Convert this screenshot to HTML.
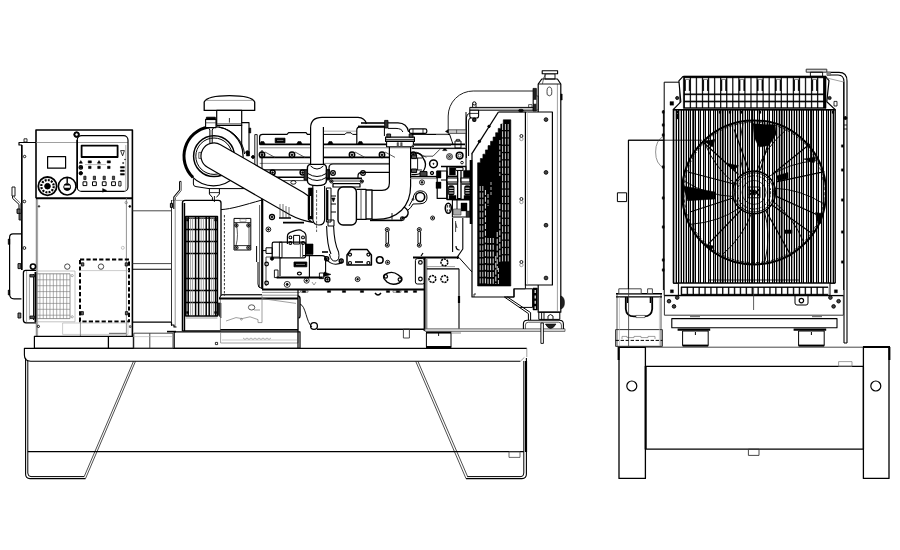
<!DOCTYPE html>
<html><head><meta charset="utf-8"><title>Generator set drawing</title>
<style>
html,body{margin:0;padding:0;background:#fff}
body{width:900px;height:550px;overflow:hidden;font-family:"Liberation Sans",sans-serif}
svg{display:block}
</style></head><body>
<svg width="900" height="550" viewBox="0 0 900 550" stroke-linecap="butt" stroke-linejoin="round">
<rect x="0" y="0" width="900" height="550" fill="#fff"/>
<g id="base">
<path d="M526.8 348.3 H24.4 V355 Q24.4 361.2 30.6 361.2 H520.4" stroke="#000" stroke-width="1.15" fill="none"/>
<path d="M526.8 348.3 V357 M520.4 361.2 L524.4 357.4" stroke="#888" stroke-width="0.8" fill="none"/>
<path d="M25.6 358 V474 Q25.6 478.6 30 478.6 H85.5" stroke="#000" stroke-width="1.1" fill="none"/>
<path d="M27.8 361 V473 Q27.8 476.6 31 476.6 H84.2" stroke="#000" stroke-width="1" fill="none"/>
<path d="M85.5 478.6 L135.6 361" stroke="#222" stroke-width="0.8" fill="none"/>
<path d="M84.2 476.6 L133.6 361" stroke="#222" stroke-width="0.8" fill=" stroke-dasharray="2.2 0.8""/>
<path d="M526.4 358 V474 Q526.4 478.6 522 478.6 H466" stroke="#000" stroke-width="1.1" fill="none"/>
<path d="M523.8 361 V473 Q523.8 476.6 521 476.6 H467.2" stroke="#000" stroke-width="1" fill="none"/>
<path d="M466 478.6 L415.6 361" stroke="#222" stroke-width="0.8" fill="none"/>
<path d="M467.6 476.6 L417.8 361" stroke="#222" stroke-width="0.8" fill=" stroke-dasharray="2.2 0.8""/>
<line x1="526" y1="361" x2="526" y2="452" stroke="#000" stroke-width="2.2"/>
<line x1="27.8" y1="451.6" x2="523.8" y2="451.6" stroke="#000" stroke-width="1.1"/>
<rect x="509" y="451.6" width="11" height="5.8" rx="0" stroke="#444" stroke-width="0.8" fill="none"/>
</g>
<g id="panel">
<path d="M36 198.2 V130 H132.4 V336.3" stroke="#000" stroke-width="1.6" fill="none"/>
<line x1="36.3" y1="198.2" x2="36.3" y2="336.3" stroke="#666" stroke-width="0.9"/>
<line x1="36" y1="198.2" x2="132.4" y2="198.2" stroke="#000" stroke-width="2"/>
<line x1="126.4" y1="198" x2="126.4" y2="336" stroke="#777" stroke-width="0.8"/>
<line x1="36" y1="142.5" x2="128" y2="142.5" stroke="#777" stroke-width="0.7"/>
<line x1="37.6" y1="199" x2="37.6" y2="336" stroke="#777" stroke-width="0.7"/>
<path d="M36 142.5 H19 V145 H21.6 V270" stroke="#000" stroke-width="1.2" fill="none"/>
<line x1="21.8" y1="145" x2="21.8" y2="270" stroke="#000" stroke-width="1.6"/>
<rect x="24" y="138.8" width="3" height="3.2" rx="0" stroke="#000" stroke-width="0.8" fill="none"/>
<circle cx="24.6" cy="156.5" r="1.2" stroke="#000" stroke-width="0.9" fill="none"/>
<circle cx="24.4" cy="201.5" r="1.3" stroke="#000" stroke-width="0.9" fill="none"/>
<circle cx="24.4" cy="248" r="1.4" stroke="#000" stroke-width="0.9" fill="none"/>
<rect x="77.2" y="135.6" width="50.8" height="55.8" rx="4.5" stroke="#000" stroke-width="1.2" fill="none"/>
<line x1="77.2" y1="140" x2="77.2" y2="188" stroke="#000" stroke-width="1.6"/>
<rect x="81.6" y="145.6" width="36" height="11.4" rx="0" stroke="#000" stroke-width="1.8" fill="none"/>
<line x1="125.8" y1="145" x2="125.8" y2="190" stroke="#777" stroke-width="0.6"/>
<circle cx="76.6" cy="134.6" r="2.8" stroke="#000" stroke-width="1" fill="#000"/>
<circle cx="76.6" cy="134.6" r="1" stroke="#fff" stroke-width="0.5" fill="#fff"/>
<rect x="47.6" y="156.6" width="18" height="11.6" rx="0" stroke="#000" stroke-width="1.2" fill="none"/>
<circle cx="47.5" cy="186.2" r="9.2" stroke="#000" stroke-width="1.8" fill="none"/>
<circle cx="47.5" cy="186.2" r="6.2" stroke="#000" stroke-width="2.2" fill="none" stroke-dasharray="2 1.2"/>
<circle cx="47.5" cy="186.2" r="2.8" stroke="#000" stroke-width="1" fill="#000"/>
<circle cx="67.2" cy="186.2" r="8.8" stroke="#000" stroke-width="1.6" fill="none"/>
<circle cx="67.2" cy="187" r="3.4" stroke="#000" stroke-width="1" fill="#000"/>
<line x1="67.2" y1="178" x2="67.2" y2="183" stroke="#000" stroke-width="1.4"/>
<rect x="64.6" y="185.8" width="5.2" height="1.8" rx="0" stroke="#fff" stroke-width="0.5" fill="#fff"/>
<path d="M79.2 163.2 L80.8 160.6 L82.4 163.2 Z" stroke="#000" stroke-width="0.6" fill="#000"/>
<rect x="79.5" y="166.2" width="2.6" height="2.4" rx="0" stroke="#000" stroke-width="0.5" fill="#000"/>
<rect x="88.2" y="160.8" width="3.2" height="2.2" rx="0" stroke="#000" stroke-width="0.5" fill="#000"/>
<rect x="88.5" y="166.2" width="2.6" height="2.4" rx="0" stroke="#000" stroke-width="0.5" fill="#000"/>
<path d="M97.4 163.2 L99 160.6 L100.6 163.2 Z" stroke="#000" stroke-width="0.6" fill="#000"/>
<rect x="97.7" y="166.2" width="2.6" height="2.4" rx="0" stroke="#000" stroke-width="0.5" fill="#000"/>
<rect x="107.2" y="160.8" width="3.2" height="2.2" rx="0" stroke="#000" stroke-width="0.5" fill="#000"/>
<rect x="107.5" y="166.2" width="2.6" height="2.4" rx="0" stroke="#000" stroke-width="0.5" fill="#000"/>
<line x1="85" y1="164.6" x2="106" y2="164.6" stroke="#777" stroke-width="0.5"/>
<circle cx="80.8" cy="167.4" r="1.8" stroke="#000" stroke-width="1.1" fill="none"/>
<circle cx="80.8" cy="173.2" r="1.7" stroke="#000" stroke-width="1" fill="#000"/>
<rect x="83.8" y="176.2" width="2.2" height="3.4" rx="0" stroke="#000" stroke-width="0.7" fill="#555"/>
<rect x="83" y="181.8" width="3.8" height="3.8" rx="0" stroke="#000" stroke-width="1" fill="none"/>
<rect x="93.3" y="176.2" width="2.2" height="3.4" rx="0" stroke="#000" stroke-width="0.7" fill="#555"/>
<rect x="92.5" y="181.8" width="3.8" height="3.8" rx="0" stroke="#000" stroke-width="1" fill="none"/>
<rect x="103.1" y="176.2" width="2.2" height="3.4" rx="0" stroke="#000" stroke-width="0.7" fill="#555"/>
<rect x="102.3" y="181.8" width="3.8" height="3.8" rx="0" stroke="#000" stroke-width="1" fill="none"/>
<rect x="112.4" y="176.2" width="2.2" height="3.4" rx="0" stroke="#000" stroke-width="0.7" fill="#555"/>
<rect x="111.6" y="181.8" width="3.8" height="3.8" rx="0" stroke="#000" stroke-width="1" fill="none"/>
<rect x="118.8" y="181.4" width="2.2" height="4.6" rx="0" stroke="#000" stroke-width="0.9" fill="none"/>
<path d="M102.6 188.6 L106.6 190.4 L102.6 192.2 Z" stroke="#000" stroke-width="0.5" fill="#000"/>
<path d="M120.6 150.6 L124.4 150.6 L122.6 155.8 Z" stroke="#000" stroke-width="0.8" fill="none"/>
<rect x="120.4" y="166.5" width="4" height="1.6" rx="0" stroke="#000" stroke-width="0.4" fill="#000"/>
<rect x="120.4" y="170" width="4" height="1.6" rx="0" stroke="#000" stroke-width="0.4" fill="#000"/>
<rect x="120.4" y="173.5" width="4" height="1.6" rx="0" stroke="#000" stroke-width="0.4" fill="#000"/>
<rect x="122.6" y="162.4" width="1.2" height="1.2" rx="0" stroke="#000" stroke-width="0.3" fill="#000"/>
<rect x="124.6" y="159" width="0.8" height="1" rx="0" stroke="#000" stroke-width="0.3" fill="#000"/>
<circle cx="126.2" cy="202.6" r="1.2" stroke="#777" stroke-width="0.7" fill="none"/>
<circle cx="129.8" cy="206.4" r="0.9" stroke="#000" stroke-width="0.8" fill="#000"/>
<circle cx="39" cy="206.4" r="0.8" stroke="#000" stroke-width="0.6" fill="#555"/>
<circle cx="122.8" cy="247.8" r="1.5" stroke="#aaa" stroke-width="0.7" fill="none"/>
<circle cx="67.3" cy="266.6" r="2.7" stroke="#333" stroke-width="0.9" fill="none"/>
<circle cx="101" cy="266.6" r="2.7" stroke="#333" stroke-width="0.9" fill="none"/>
<circle cx="33" cy="266.6" r="2.6" stroke="#000" stroke-width="1.6" fill="none"/>
<rect x="80" y="259.4" width="49" height="62.2" rx="0" stroke="#000" stroke-width="2" fill="none" stroke-dasharray="4.2 2.2"/>
<line x1="80" y1="270.6" x2="129" y2="270.6" stroke="#aaa" stroke-width="0.6"/>
<rect x="81.4" y="262.8" width="2.4" height="3.2" rx="0" stroke="#000" stroke-width="0.8" fill="#666"/>
<rect x="125.2" y="262.8" width="2.4" height="3.2" rx="0" stroke="#000" stroke-width="0.8" fill="#666"/>
<rect x="81" y="311.6" width="2.4" height="3.2" rx="0" stroke="#000" stroke-width="0.8" fill="#666"/>
<rect x="125.4" y="311.6" width="2.4" height="3.2" rx="0" stroke="#000" stroke-width="0.8" fill="#666"/>
<rect x="36.4" y="271" width="38.6" height="50.8" rx="0" stroke="#aaa" stroke-width="0.7" fill="none"/>
<rect x="36.6" y="273.8" width="33.4" height="44.8" rx="0" stroke="#777" stroke-width="0.8" fill="none"/>
<line x1="39.9" y1="273.8" x2="39.9" y2="318.6" stroke="#777" stroke-width="0.6"/>
<line x1="43.26" y1="273.8" x2="43.26" y2="318.6" stroke="#777" stroke-width="0.6"/>
<line x1="46.62" y1="273.8" x2="46.62" y2="318.6" stroke="#777" stroke-width="0.6"/>
<line x1="49.98" y1="273.8" x2="49.98" y2="318.6" stroke="#777" stroke-width="0.6"/>
<line x1="53.34" y1="273.8" x2="53.34" y2="318.6" stroke="#777" stroke-width="0.6"/>
<line x1="56.7" y1="273.8" x2="56.7" y2="318.6" stroke="#777" stroke-width="0.6"/>
<line x1="60.06" y1="273.8" x2="60.06" y2="318.6" stroke="#777" stroke-width="0.6"/>
<line x1="63.42" y1="273.8" x2="63.42" y2="318.6" stroke="#777" stroke-width="0.6"/>
<line x1="66.78" y1="273.8" x2="66.78" y2="318.6" stroke="#777" stroke-width="0.6"/>
<line x1="36.6" y1="279.8" x2="70" y2="279.8" stroke="#777" stroke-width="0.6"/>
<line x1="36.6" y1="285.7" x2="70" y2="285.7" stroke="#777" stroke-width="0.6"/>
<line x1="36.6" y1="291.6" x2="70" y2="291.6" stroke="#777" stroke-width="0.6"/>
<line x1="36.6" y1="297.5" x2="70" y2="297.5" stroke="#777" stroke-width="0.6"/>
<line x1="36.6" y1="303.4" x2="70" y2="303.4" stroke="#777" stroke-width="0.6"/>
<line x1="36.6" y1="309.3" x2="70" y2="309.3" stroke="#777" stroke-width="0.6"/>
<line x1="36.6" y1="315.2" x2="70" y2="315.2" stroke="#777" stroke-width="0.6"/>
<circle cx="72.2" cy="275.6" r="1.1" stroke="#777" stroke-width="0.6" fill="none"/>
<circle cx="72.2" cy="316.8" r="1.1" stroke="#777" stroke-width="0.6" fill="none"/>
<path d="M36 270.4 H25.6 Q23.4 270.4 23.4 273 V320 Q23.4 322.8 26 322.8 H36" stroke="#000" stroke-width="1.3" fill="none"/>
<line x1="26.6" y1="271" x2="26.6" y2="322" stroke="#777" stroke-width="0.7"/>
<line x1="29.4" y1="274" x2="29.4" y2="320" stroke="#777" stroke-width="0.7"/>
<line x1="33.6" y1="274" x2="33.6" y2="320" stroke="#000" stroke-width="1"/>
<line x1="35.4" y1="272" x2="35.4" y2="322" stroke="#000" stroke-width="1.8"/>
<rect x="30" y="274.6" width="4.4" height="2.4" rx="0" stroke="#000" stroke-width="0.8" fill="#555"/>
<rect x="30" y="316" width="4.4" height="2.6" rx="0" stroke="#000" stroke-width="0.8" fill="#555"/>
<path d="M21.4 233.8 H13 Q9.6 233.8 9.6 237.4 V294 Q9.6 298.8 14 298.8 H21.4" stroke="#000" stroke-width="1.2" fill="none"/>
<rect x="8.2" y="239" width="1.6" height="5.4" rx="0" stroke="#000" stroke-width="0.5" fill="#000"/>
<rect x="8.2" y="290" width="1.6" height="5" rx="0" stroke="#000" stroke-width="0.5" fill="#000"/>
<rect x="12" y="187" width="3" height="9" rx="0" stroke="#000" stroke-width="0.9" fill="none"/>
<path d="M12.6 196 V198.4 L19 204.4 V209" stroke="#000" stroke-width="1" fill="none"/>
<path d="M14.6 196 V197.6 L20.6 203.4 V209" stroke="#444" stroke-width="0.8" fill="none"/>
<rect x="17" y="209" width="3.2" height="4.4" rx="0" stroke="#000" stroke-width="0.9" fill="#666"/>
<rect x="19" y="213.4" width="2.4" height="6.6" rx="0" stroke="#000" stroke-width="0.8" fill="#666"/>
<rect x="18" y="263.6" width="2.8" height="5" rx="0" stroke="#000" stroke-width="0.9" fill="#777"/>
<rect x="18" y="313" width="2.8" height="5" rx="0" stroke="#000" stroke-width="0.9" fill="#777"/>
<circle cx="38.4" cy="326.4" r="1.1" stroke="#000" stroke-width="0.9" fill="none"/>
<rect x="62.6" y="323" width="65.4" height="11.4" rx="0" stroke="#aaa" stroke-width="0.6" fill="none"/>
<line x1="80.4" y1="322" x2="80.4" y2="336" stroke="#777" stroke-width="0.8"/>
<line x1="109" y1="333.4" x2="126" y2="333.4" stroke="#777" stroke-width="1.2"/>
<rect x="129.4" y="325.8" width="1.6" height="1.6" rx="0" stroke="#000" stroke-width="0.6" fill="none"/>
<rect x="34.4" y="336.4" width="99" height="11.9" rx="0" stroke="#000" stroke-width="1.2" fill="none"/>
<line x1="108.4" y1="336.4" x2="108.4" y2="348.3" stroke="#000" stroke-width="1.3"/>
</g>
<g id="alt">
<line x1="132.4" y1="210.8" x2="171.5" y2="210.8" stroke="#333" stroke-width="0.9"/>
<line x1="132.4" y1="263.6" x2="171.5" y2="263.6" stroke="#333" stroke-width="0.9"/>
<line x1="132.4" y1="269.2" x2="171.5" y2="269.2" stroke="#000" stroke-width="1.1"/>
<line x1="132.4" y1="322.2" x2="171.5" y2="322.2" stroke="#000" stroke-width="1.2"/>
<line x1="171.5" y1="200" x2="171.5" y2="326" stroke="#333" stroke-width="1"/>
<line x1="175.2" y1="200.4" x2="175.2" y2="327" stroke="#777" stroke-width="0.8"/>
<path d="M171.5 322.2 V325 H174 V327 H176.5" stroke="#000" stroke-width="1.2" fill="none"/>
<path d="M182.4 331 V203 Q182.4 200.4 185 200.4 H218.4 Q221 200.4 221 203 V296" stroke="#000" stroke-width="1.3" fill="none"/>
<line x1="184.4" y1="203" x2="184.4" y2="331" stroke="#000" stroke-width="1.6"/>
<line x1="172" y1="200.4" x2="183" y2="200.4" stroke="#777" stroke-width="0.8"/>
<rect x="185.8" y="216.6" width="31.6" height="99.4" rx="0" stroke="#000" stroke-width="1.6" fill="none"/>
<line x1="185.8" y1="218.4" x2="217.4" y2="218.4" stroke="#000" stroke-width="0.8"/>
<line x1="185.8" y1="229.4" x2="217.4" y2="229.4" stroke="#000" stroke-width="1.5"/>
<line x1="185.8" y1="241.4" x2="217.4" y2="241.4" stroke="#000" stroke-width="1.5"/>
<line x1="185.8" y1="253.4" x2="217.4" y2="253.4" stroke="#000" stroke-width="1.5"/>
<line x1="185.8" y1="278.6" x2="217.4" y2="278.6" stroke="#000" stroke-width="1.5"/>
<line x1="185.8" y1="290.6" x2="217.4" y2="290.6" stroke="#000" stroke-width="1.5"/>
<line x1="185.8" y1="302.6" x2="217.4" y2="302.6" stroke="#000" stroke-width="1.5"/>
<line x1="188.2" y1="217" x2="188.2" y2="316" stroke="#000" stroke-width="1.5"/>
<line x1="195.6" y1="217" x2="195.6" y2="316" stroke="#000" stroke-width="1.5"/>
<line x1="198.6" y1="217" x2="198.6" y2="316" stroke="#000" stroke-width="1.5"/>
<line x1="206.2" y1="217" x2="206.2" y2="316" stroke="#000" stroke-width="1.5"/>
<line x1="209.2" y1="217" x2="209.2" y2="316" stroke="#000" stroke-width="1.5"/>
<line x1="215.6" y1="217" x2="215.6" y2="316" stroke="#000" stroke-width="1.5"/>
<line x1="190.6" y1="218" x2="190.6" y2="315" stroke="#777" stroke-width="0.7"/>
<line x1="192.6" y1="218" x2="192.6" y2="315" stroke="#777" stroke-width="0.7"/>
<line x1="201.2" y1="218" x2="201.2" y2="315" stroke="#777" stroke-width="0.7"/>
<line x1="203.4" y1="218" x2="203.4" y2="315" stroke="#777" stroke-width="0.7"/>
<line x1="211.4" y1="218" x2="211.4" y2="315" stroke="#777" stroke-width="0.7"/>
<line x1="213.4" y1="218" x2="213.4" y2="315" stroke="#777" stroke-width="0.7"/>
<line x1="185.8" y1="318" x2="217.4" y2="318" stroke="#777" stroke-width="0.7"/>
<rect x="186.6" y="219.2" width="2" height="1.8" rx="0" stroke="#000" stroke-width="0.5" fill="#000"/>
<rect x="214.6" y="219.2" width="2" height="1.8" rx="0" stroke="#000" stroke-width="0.5" fill="#000"/>
<rect x="186.6" y="311.6" width="2" height="1.8" rx="0" stroke="#000" stroke-width="0.5" fill="#000"/>
<rect x="214.6" y="311.6" width="2" height="1.8" rx="0" stroke="#000" stroke-width="0.5" fill="#000"/>
<path d="M217.6 303 L221 303 L221 318 L217.6 314 Z" stroke="#000" stroke-width="0.6" fill="#222"/>
<line x1="182.4" y1="330.8" x2="221" y2="330.8" stroke="#000" stroke-width="1.3"/>
<line x1="224.4" y1="215" x2="224.4" y2="296" stroke="#333" stroke-width="1" stroke-dasharray="2.4 1.6"/>
<path d="M179.6 181.6 V190 L173.8 197 V209" stroke="#000" stroke-width="1.1" fill="none"/>
<path d="M181.2 181.6 V190.6 L175.4 197.6 V200" stroke="#444" stroke-width="0.9" fill="none"/>
<line x1="179.6" y1="181.4" x2="181.2" y2="181.4" stroke="#000" stroke-width="1"/>
<rect x="170.4" y="203.4" width="2.2" height="4" rx="0" stroke="#000" stroke-width="1" fill="#777"/>
<rect x="174.2" y="331.8" width="125.8" height="16.5" rx="0" stroke="#000" stroke-width="1.2" fill="none"/>
<line x1="220.6" y1="331.8" x2="220.6" y2="343" stroke="#777" stroke-width="0.7"/>
<path d="M220.6 343 H298 V331.8" stroke="#777" stroke-width="0.7" fill="none"/>
<line x1="222" y1="340" x2="297" y2="340" stroke="#aaa" stroke-width="0.6"/>
<path d="M243 338 l2 1.4 l2 -1.4 l2 1.4 l2 -1.4 l2 1.4 l2 -1.4 l2 1.4 l2 -1.4 l2 1.4 l2 -1.4 l2 1.4 l2 -1.4 l2 1.4 l2 -1.4" stroke="#777" stroke-width="0.6" fill="none"/>
<rect x="215.4" y="342.4" width="2.2" height="2.2" rx="0" stroke="#000" stroke-width="0.8" fill="none"/>
<rect x="133.8" y="333.2" width="39.2" height="15.1" rx="0" stroke="#333" stroke-width="0.9" fill="none"/>
<line x1="149.8" y1="333.2" x2="149.8" y2="348.3" stroke="#333" stroke-width="0.9"/>
<line x1="167" y1="331.6" x2="176" y2="331.6" stroke="#000" stroke-width="1.6"/>
<line x1="133" y1="336.6" x2="172" y2="336.6" stroke="#aaa" stroke-width="0.6"/>
<rect x="220.4" y="295.2" width="77.6" height="35.2" rx="0" stroke="#777" stroke-width="0.8" fill="none"/>
<line x1="219" y1="298.4" x2="298" y2="298.4" stroke="#000" stroke-width="2"/>
<line x1="220.4" y1="329.8" x2="298" y2="329.8" stroke="#000" stroke-width="1.4"/>
<path d="M219.4 298 L221.6 294.6 H262" stroke="#000" stroke-width="0.9" fill="none"/>
<path d="M226 321 L236 317.6 L242 318.6 L250 316.8 L258 319.6 V322.6 H262 V296" stroke="#777" stroke-width="0.7" fill="none"/>
<ellipse cx="251.6" cy="307.4" rx="3.2" ry="2.6" stroke="#444" stroke-width="0.9" fill="none"/>
<path d="M254 310 H260" stroke="#777" stroke-width="0.7" fill="none"/>
<circle cx="241.4" cy="319.2" r="0.9" stroke="#777" stroke-width="0.7" fill="none"/>
<line x1="262" y1="298.6" x2="296" y2="303.4" stroke="#777" stroke-width="0.7"/>
</g>
<g id="engine">
<path d="M221 209.6 C232 209 244 205 262 200" stroke="#000" stroke-width="1" fill="none"/>
<line x1="262.2" y1="196" x2="262.2" y2="289" stroke="#000" stroke-width="2.2"/>
<line x1="259.6" y1="205" x2="259.6" y2="288" stroke="#333" stroke-width="0.8"/>
<path d="M258 262 V284 Q258 288 261 288" stroke="#000" stroke-width="1" fill="none"/>
<path d="M256.6 246 V262" stroke="#000" stroke-width="1" fill="none"/>
<rect x="234" y="218.4" width="16.8" height="31.6" rx="0" stroke="#000" stroke-width="1" fill="none"/>
<line x1="234" y1="222.6" x2="250.8" y2="222.6" stroke="#000" stroke-width="0.8"/>
<line x1="234" y1="245.6" x2="250.8" y2="245.6" stroke="#000" stroke-width="0.8"/>
<path d="M236 222.6 C238 232 238 238 236 245.6" stroke="#333" stroke-width="0.8" fill="none"/>
<path d="M249 222.6 V245.6" stroke="#333" stroke-width="0.8" fill="none"/>
<circle cx="236.4" cy="225.4" r="1.7" stroke="#000" stroke-width="1" fill="none"/>
<circle cx="236.4" cy="225.4" r="0.59" stroke="#000" stroke-width="0.8" fill="#000"/>
<circle cx="248.4" cy="225.4" r="1.7" stroke="#000" stroke-width="1" fill="none"/>
<circle cx="248.4" cy="225.4" r="0.59" stroke="#000" stroke-width="0.8" fill="#000"/>
<circle cx="236.4" cy="247.6" r="1.7" stroke="#000" stroke-width="1" fill="none"/>
<circle cx="236.4" cy="247.6" r="0.59" stroke="#000" stroke-width="0.8" fill="#000"/>
<circle cx="248.4" cy="247.6" r="1.7" stroke="#000" stroke-width="1" fill="none"/>
<circle cx="248.4" cy="247.6" r="0.59" stroke="#000" stroke-width="0.8" fill="#000"/>
<rect x="240" y="219" width="6" height="2.6" rx="0" stroke="#777" stroke-width="0.6" fill="none"/>
<line x1="262" y1="289.6" x2="425" y2="289.6" stroke="#000" stroke-width="2"/>
<line x1="262" y1="292.4" x2="300" y2="292.4" stroke="#777" stroke-width="0.8"/>
<path d="M298 290 V348" stroke="#000" stroke-width="1.2" fill="none"/>
<path d="M298 296 Q300 296 300 299 V316 Q300 318 298.6 318" stroke="#000" stroke-width="1.4" fill="none"/>
<path d="M300 304 C306 306 306 322 312 327" stroke="#000" stroke-width="0.9" fill="none"/>
<circle cx="314" cy="326" r="3.4" stroke="#000" stroke-width="1.3" fill="none"/>
<line x1="317" y1="329.2" x2="425" y2="329.2" stroke="#000" stroke-width="1.4"/>
<rect x="403.4" y="329.2" width="6" height="8.8" rx="0" stroke="#333" stroke-width="0.9" fill="none"/>
<rect x="302.4" y="290.6" width="3.2" height="1.8" rx="0" stroke="#000" stroke-width="0.5" fill="#000"/>
<rect x="327.4" y="290.6" width="3.2" height="1.8" rx="0" stroke="#000" stroke-width="0.5" fill="#000"/>
<rect x="342.4" y="290.6" width="3.2" height="1.8" rx="0" stroke="#000" stroke-width="0.5" fill="#000"/>
<rect x="360.4" y="290.6" width="3.2" height="1.8" rx="0" stroke="#000" stroke-width="0.5" fill="#000"/>
<rect x="386.4" y="290.6" width="3.2" height="1.8" rx="0" stroke="#000" stroke-width="0.5" fill="#000"/>
<rect x="396.4" y="290.6" width="3.2" height="1.8" rx="0" stroke="#000" stroke-width="0.5" fill="#000"/>
<rect x="404.4" y="290.6" width="3.2" height="1.8" rx="0" stroke="#000" stroke-width="0.5" fill="#000"/>
<rect x="413.4" y="290.6" width="3.2" height="1.8" rx="0" stroke="#000" stroke-width="0.5" fill="#000"/>
<rect x="300.6" y="290.4" width="7.4" height="1.8" rx="0" stroke="#333" stroke-width="0.6" fill="none"/>
<rect x="393" y="290.4" width="8" height="1.8" rx="0" stroke="#333" stroke-width="0.6" fill="none"/>
<path d="M375 293 q3 4 6 0" stroke="#000" stroke-width="1.4" fill="none"/>
<path d="M204.2 110.4 V102 C206 98 216 95.6 229.4 95.6 C243 95.6 253 98 254.7 102 V110.4 Z" stroke="#000" stroke-width="1.3" fill="#fff"/>
<line x1="206" y1="100.4" x2="253" y2="100.4" stroke="#777" stroke-width="0.7"/>
<rect x="216.7" y="110.4" width="25" height="14.9" rx="0" stroke="#000" stroke-width="1.2" fill="#fff"/>
<line x1="216.7" y1="123.8" x2="241.7" y2="123.8" stroke="#333" stroke-width="0.8"/>
<line x1="229.4" y1="118" x2="229.4" y2="122.6" stroke="#333" stroke-width="1"/>
<path d="M241.7 122.6 H249 V156" stroke="#000" stroke-width="1.1" fill="none"/>
<line x1="241.7" y1="125" x2="241.7" y2="150" stroke="#000" stroke-width="1.1"/>
<rect x="249" y="128" width="1.8" height="5" rx="0" stroke="#000" stroke-width="0.5" fill="#000"/>
<rect x="246.4" y="151.6" width="3" height="4.4" rx="0" stroke="#000" stroke-width="0.5" fill="#000"/>
<circle cx="213.5" cy="156.2" r="29.6" stroke="#000" stroke-width="1.2" fill="#fff"/>
<path d="M208.4 127 A29.6 29.6 0 0 0 193 177.4" stroke="#000" stroke-width="3" fill="none"/>
<path d="M219 127.2 C232 129 243 140 244.6 154" stroke="#000" stroke-width="1" fill="none"/>
<circle cx="214" cy="156.2" r="20.4" stroke="#000" stroke-width="1.5" fill="none"/>
<circle cx="214" cy="156.2" r="18.2" stroke="#000" stroke-width="1" fill="none"/>
<path d="M193.4 178.6 V184 Q193.4 186.4 196 186.6 L209 188.6 H244" stroke="#000" stroke-width="1" fill="none"/>
<path d="M209.4 188.8 V194 L212.4 197.4 V200.4 M219.4 188.8 V194 L216.4 197.4" stroke="#000" stroke-width="1" fill="none"/>
<line x1="209.4" y1="192.6" x2="219.4" y2="192.6" stroke="#000" stroke-width="0.8"/>
<line x1="214.4" y1="196" x2="214.4" y2="202" stroke="#000" stroke-width="0.9"/>
<rect x="198.8" y="152.4" width="2.8" height="6" rx="0" stroke="#333" stroke-width="0.8" fill="none"/>
<rect x="205.6" y="119.4" width="10.4" height="8.2" rx="0" stroke="#000" stroke-width="1.1" fill="#fff"/>
<rect x="206.4" y="117.2" width="9" height="2.4" rx="0" stroke="#000" stroke-width="0.8" fill="#000"/>
<line x1="205.6" y1="122.8" x2="216" y2="122.8" stroke="#333" stroke-width="0.7"/>
<path d="M208.4 127.6 L209.9 130 V143.4 M213.6 127.6 L212.2 130 V143.4" stroke="#000" stroke-width="1" fill="none"/>
<path d="M259.6 144.4 V137 Q259.6 134.4 262.6 134.4 H287 L288.6 132.6 H306 L307.4 134.4 H311" stroke="#000" stroke-width="1.2" fill="none"/>
<path d="M323.4 134.4 H345 L346.4 132.8 H351 L352.6 134.4 H357" stroke="#000" stroke-width="1" fill="none"/>
<line x1="323.4" y1="130.8" x2="357" y2="130.8" stroke="#333" stroke-width="0.9"/>
<line x1="259.6" y1="144.4" x2="465" y2="144.4" stroke="#000" stroke-width="1.8"/>
<line x1="259.6" y1="147.8" x2="465" y2="147.8" stroke="#777" stroke-width="0.9"/>
<rect x="275.2" y="138.2" width="9.8" height="4.6" rx="0" stroke="#000" stroke-width="0.8" fill="#000"/>
<line x1="277" y1="140.4" x2="283.4" y2="140.4" stroke="#ccc" stroke-width="0.6"/>
<path d="M259.6 144.4 L261 141.6 L263.8 141.6 L265.2 144.4 Z" stroke="#000" stroke-width="0.6" fill="#000"/>
<path d="M296.6 144.4 L298 141.6 L300.8 141.6 L302.2 144.4 Z" stroke="#000" stroke-width="0.6" fill="#000"/>
<path d="M327.6 144.4 L329 141.6 L331.8 141.6 L333.2 144.4 Z" stroke="#000" stroke-width="0.6" fill="#000"/>
<path d="M357.6 144.4 L359 141.6 L361.8 141.6 L363.2 144.4 Z" stroke="#000" stroke-width="0.6" fill="#000"/>
<path d="M387.6 144.4 L389 141.6 L391.8 141.6 L393.2 144.4 Z" stroke="#000" stroke-width="0.6" fill="#000"/>
<line x1="259.6" y1="157.4" x2="389" y2="157.4" stroke="#000" stroke-width="1.6"/>
<line x1="259.6" y1="163.4" x2="389" y2="163.4" stroke="#777" stroke-width="0.9"/>
<line x1="259.6" y1="169.8" x2="330" y2="169.8" stroke="#000" stroke-width="1.2"/>
<line x1="259.6" y1="177.2" x2="308" y2="177.2" stroke="#000" stroke-width="1.4"/>
<line x1="270" y1="180.6" x2="308" y2="180.6" stroke="#333" stroke-width="0.9"/>
<path d="M265 152 L275 157.4" stroke="#333" stroke-width="0.8" fill="none"/>
<circle cx="262" cy="154.8" r="2.7" stroke="#000" stroke-width="1.5" fill="none"/>
<circle cx="262" cy="154.8" r="0.94" stroke="#000" stroke-width="0.8" fill="#000"/>
<path d="M295 152 L305 157.4" stroke="#333" stroke-width="0.8" fill="none"/>
<circle cx="292" cy="154.8" r="2.7" stroke="#000" stroke-width="1.5" fill="none"/>
<circle cx="292" cy="154.8" r="0.94" stroke="#000" stroke-width="0.8" fill="#000"/>
<path d="M355 152 L365 157.4" stroke="#333" stroke-width="0.8" fill="none"/>
<circle cx="352" cy="154.8" r="2.7" stroke="#000" stroke-width="1.5" fill="none"/>
<circle cx="352" cy="154.8" r="0.94" stroke="#000" stroke-width="0.8" fill="#000"/>
<path d="M385 152 L395 157.4" stroke="#333" stroke-width="0.8" fill="none"/>
<circle cx="382" cy="154.8" r="2.7" stroke="#000" stroke-width="1.5" fill="none"/>
<circle cx="382" cy="154.8" r="0.94" stroke="#000" stroke-width="0.8" fill="#000"/>
<path d="M416.4 152 L426.4 157.4" stroke="#333" stroke-width="0.8" fill="none"/>
<circle cx="413.4" cy="154.8" r="2.7" stroke="#000" stroke-width="1.5" fill="none"/>
<circle cx="413.4" cy="154.8" r="0.94" stroke="#000" stroke-width="0.8" fill="#000"/>
<circle cx="272.6" cy="172.6" r="2.5" stroke="#000" stroke-width="1.5" fill="none"/>
<circle cx="272.6" cy="172.6" r="0.88" stroke="#000" stroke-width="0.8" fill="#000"/>
<circle cx="302.6" cy="172.6" r="2.5" stroke="#000" stroke-width="1.5" fill="none"/>
<circle cx="302.6" cy="172.6" r="0.88" stroke="#000" stroke-width="0.8" fill="#000"/>
<circle cx="333" cy="173" r="2.3" stroke="#000" stroke-width="1.3" fill="none"/>
<circle cx="333" cy="173" r="0.8" stroke="#000" stroke-width="0.8" fill="#000"/>
<circle cx="363" cy="173" r="2.3" stroke="#000" stroke-width="1.3" fill="none"/>
<circle cx="363" cy="173" r="0.8" stroke="#000" stroke-width="0.8" fill="#000"/>
<path d="M262.6 181 L300 206" stroke="#000" stroke-width="0" fill="none"/>
<ellipse cx="293.4" cy="182.4" rx="2.6" ry="1.8" stroke="#000" stroke-width="0.9" fill="none"/>
<line x1="262" y1="150" x2="262" y2="196" stroke="#000" stroke-width="1"/>
<rect x="254.8" y="134.6" width="2.4" height="31.4" rx="0" stroke="#000" stroke-width="0.9" fill="none"/>
<circle cx="247.4" cy="152.4" r="1.6" stroke="#000" stroke-width="1" fill="#000"/>
<circle cx="253" cy="157" r="1.4" stroke="#000" stroke-width="1" fill="#000"/>
<path d="M220.5 144.7 L303.4 192.5 L308.4 196 V219.6 L312.6 222.4 C304 221 297 218.6 290 214.8 L207.5 167.3 A13 13 0 0 1 220.5 144.7 Z" stroke="#000" stroke-width="1.2" fill="#fff"/>
<path d="M310.6 166 V128 Q310.6 117.4 322 117.4 H358 Q365 117.6 366.4 124 L366.4 126.6 H358 V130.8 H323.4 V166 Z" stroke="#fff" stroke-width="0.1" fill="#fff"/>
<path d="M310.6 166 V128 Q310.6 117.4 322 117.4 H358 Q365 117.6 366.4 124" stroke="#000" stroke-width="1.2" fill="none"/>
<path d="M323.4 166 V127" stroke="#000" stroke-width="1.2" fill="none"/>
<path d="M307.4 168 Q307.4 164.6 311 164.4 H323 Q326.4 164.6 326.4 168 V181 Q326.4 185.6 317 185.6 Q307.4 185.6 307.4 181 Z" stroke="#000" stroke-width="1.4" fill="#fff"/>
<path d="M310.6 166 Q317 172 323.4 166" stroke="#000" stroke-width="1" fill="none"/>
<path d="M308 173.6 Q317 179.4 326 173.6" stroke="#000" stroke-width="1" fill="none"/>
<path d="M308 177.6 Q317 183.4 326 177.6" stroke="#000" stroke-width="1" fill="none"/>
<rect x="304" y="170" width="3.4" height="10" rx="0" stroke="#000" stroke-width="0.8" fill="#333"/>
<rect x="326.4" y="170" width="3.2" height="10" rx="0" stroke="#000" stroke-width="0.8" fill="#333"/>
<rect x="308.4" y="188" width="4.4" height="31" rx="0" stroke="#000" stroke-width="0.6" fill="#000"/>
<line x1="310.6" y1="196" x2="310.6" y2="216" stroke="#fff" stroke-width="1"/>
<path d="M312.8 186 V219 Q313 225 319 225 Q324.6 225 324.6 219 V186" stroke="#000" stroke-width="1.1" fill="none"/>
<line x1="316.6" y1="190" x2="316.6" y2="232" stroke="#333" stroke-width="0.8" stroke-dasharray="3 1.4"/>
<path d="M329 178 V168 Q329 164 333 164 H389" stroke="#000" stroke-width="1.2" fill="none"/>
<path d="M358 178 V176 Q358 172.4 362 172.4 H389" stroke="#000" stroke-width="1.2" fill="none"/>
<line x1="326" y1="178.4" x2="362" y2="178.4" stroke="#000" stroke-width="1.6"/>
<rect x="333" y="183.6" width="27" height="3.4" rx="0" stroke="#000" stroke-width="1.2" fill="#fff"/>
<line x1="329" y1="181" x2="364" y2="181" stroke="#333" stroke-width="0.9"/>
<circle cx="331.4" cy="181.4" r="1.6" stroke="#000" stroke-width="1" fill="none"/>
<circle cx="331.4" cy="181.4" r="0.56" stroke="#000" stroke-width="0.8" fill="#000"/>
<circle cx="361.8" cy="181.4" r="1.6" stroke="#000" stroke-width="1" fill="none"/>
<circle cx="361.8" cy="181.4" r="0.56" stroke="#000" stroke-width="0.8" fill="#000"/>
<rect x="338" y="187" width="18.4" height="38" rx="5" stroke="#000" stroke-width="1.4" fill="#fff"/>
<path d="M356.4 189.4 H366 V219.4 H356.4" stroke="#000" stroke-width="1.2" fill="none"/>
<line x1="361" y1="189.4" x2="361" y2="219.4" stroke="#333" stroke-width="0.8"/>
<path d="M366 190 H372 V219 H366" stroke="#000" stroke-width="1.3" fill="none"/>
<path d="M389.4 147 V183 Q389.4 190.4 382 190.4 H372" stroke="#000" stroke-width="1.2" fill="none"/>
<path d="M410.6 147 V186 C410.6 206 398 219.4 376 219.4 H372" stroke="#000" stroke-width="1.2" fill="none"/>
<line x1="370" y1="220.4" x2="402" y2="220.4" stroke="#000" stroke-width="1.6"/>
<path d="M392 213 V219.6" stroke="#000" stroke-width="0.9" fill="none"/>
<circle cx="402.4" cy="218.6" r="1.8" stroke="#000" stroke-width="1.2" fill="none"/>
<circle cx="402.4" cy="218.6" r="0.63" stroke="#000" stroke-width="0.8" fill="#000"/>
<rect x="385.6" y="137.2" width="28.8" height="4.2" rx="0" stroke="#000" stroke-width="1.2" fill="#fff"/>
<rect x="386.6" y="141.4" width="26.8" height="5.4" rx="0" stroke="#000" stroke-width="1.1" fill="#fff"/>
<line x1="385.6" y1="139.4" x2="414.4" y2="139.4" stroke="#000" stroke-width="0.8"/>
<rect x="386.8" y="134" width="3.8" height="3.2" rx="0" stroke="#000" stroke-width="0.9" fill="#555"/>
<rect x="409.2" y="134" width="3.8" height="3.2" rx="0" stroke="#000" stroke-width="0.9" fill="#555"/>
<rect x="397" y="142.6" width="1.6" height="3.4" rx="0" stroke="#555" stroke-width="0.5" fill="#555"/>
<rect x="400.6" y="142.6" width="1.6" height="3.4" rx="0" stroke="#555" stroke-width="0.5" fill="#555"/>
<path d="M356.8 144.4 V130 Q356.8 126.8 360 126.8 H384.4" stroke="#000" stroke-width="1.2" fill="none"/>
<line x1="358" y1="126.6" x2="384" y2="126.6" stroke="#000" stroke-width="2"/>
<path d="M361 123 H386" stroke="#000" stroke-width="1.6" fill="none"/>
<path d="M384.4 126 V136" stroke="#000" stroke-width="1" fill="none"/>
<rect x="384.6" y="120.4" width="3.4" height="7.6" rx="0" stroke="#000" stroke-width="0.8" fill="#333"/>
<path d="M388 122.8 H398 Q407 123 408.6 131.8" stroke="#000" stroke-width="1.2" fill="none"/>
<path d="M388 128.4 H396 Q402 128.6 402.8 132" stroke="#000" stroke-width="1" fill="none"/>
<rect x="409.4" y="128.9" width="17.4" height="4.5" rx="1.6" stroke="#000" stroke-width="1.2" fill="#fff"/>
<line x1="413" y1="128.9" x2="413" y2="133.4" stroke="#000" stroke-width="0.8"/>
<line x1="423" y1="128.9" x2="423" y2="133.4" stroke="#000" stroke-width="0.8"/>
<line x1="411.8" y1="134.4" x2="450" y2="134.4" stroke="#000" stroke-width="1"/>
<rect x="326.4" y="188" width="4.6" height="34" rx="0" stroke="#000" stroke-width="1" fill="#fff"/>
<line x1="327.6" y1="190" x2="327.6" y2="220" stroke="#000" stroke-width="1.6"/>
<path d="M331 196 H336 M331 204 H336 M331 212 H336" stroke="#000" stroke-width="1" fill="none"/>
<path d="M331.6 198 L335 198 L333.4 202 Z" stroke="#000" stroke-width="0.6" fill="#000"/>
<rect x="328" y="220" width="6" height="6" rx="0" stroke="#000" stroke-width="1" fill="none"/>
<path d="M326.6 226 C327 240 328 248 331 254" stroke="#000" stroke-width="1.1" fill="none"/>
<path d="M333.6 226 C334 238 335.6 246 338.6 252" stroke="#000" stroke-width="1.1" fill="none"/>
<path d="M322 252 H328" stroke="#000" stroke-width="1.6" fill="none"/>
<path d="M325 258 Q333 268 343 262" stroke="#000" stroke-width="1.1" fill="none"/>
<path d="M329.4 254 Q331 262 336 261 Q340 260 338.6 252" stroke="#000" stroke-width="1" fill="none"/>
<circle cx="326.7" cy="258.8" r="2" stroke="#000" stroke-width="1.4" fill="none"/>
<circle cx="326.7" cy="258.8" r="0.7" stroke="#000" stroke-width="0.8" fill="#000"/>
<circle cx="341.2" cy="261" r="2" stroke="#000" stroke-width="1.4" fill="none"/>
<circle cx="341.2" cy="261" r="0.7" stroke="#000" stroke-width="0.8" fill="#000"/>
<rect x="272.2" y="242.2" width="33.4" height="15.6" rx="1.5" stroke="#000" stroke-width="1.2" fill="#fff"/>
<rect x="279.4" y="242.2" width="2.6" height="15.6" rx="0" stroke="#000" stroke-width="0.9" fill="none"/>
<line x1="300.4" y1="243" x2="300.4" y2="257" stroke="#333" stroke-width="0.8"/>
<line x1="302.6" y1="243" x2="302.6" y2="257" stroke="#333" stroke-width="0.8"/>
<rect x="305.6" y="244" width="7.4" height="10.4" rx="0" stroke="#000" stroke-width="0.6" fill="#000"/>
<rect x="266" y="247.8" width="6.2" height="5.6" rx="0" stroke="#000" stroke-width="1" fill="none"/>
<line x1="262" y1="250.6" x2="266" y2="250.6" stroke="#000" stroke-width="1"/>
<path d="M280 257.8 V276 M325.6 256 V276 M309.4 255.6 V277" stroke="#000" stroke-width="1.1" fill="none"/>
<path d="M303 255.6 H322 Q325.6 255.6 325.6 259" stroke="#000" stroke-width="1.1" fill="none"/>
<line x1="276.6" y1="277.4" x2="322.8" y2="277.4" stroke="#000" stroke-width="2"/>
<rect x="294" y="262" width="12.8" height="4.8" rx="0" stroke="#000" stroke-width="0.8" fill="#000"/>
<line x1="296" y1="264.4" x2="305" y2="264.4" stroke="#ccc" stroke-width="0.6"/>
<ellipse cx="299.4" cy="273.6" rx="2" ry="1.4" stroke="#000" stroke-width="1.2" fill="none"/>
<rect x="274.4" y="270" width="3.6" height="7.6" rx="0" stroke="#000" stroke-width="0.9" fill="none"/>
<rect x="319.4" y="273" width="4.2" height="5.6" rx="0" stroke="#000" stroke-width="0.9" fill="none"/>
<path d="M266 257 H279 M266 257 V286" stroke="#333" stroke-width="0.9" fill="none"/>
<circle cx="272" cy="258.6" r="1.6" stroke="#000" stroke-width="1" fill="#000"/>
<circle cx="266.6" cy="264" r="1.8" stroke="#000" stroke-width="1.2" fill="none"/>
<circle cx="266.6" cy="283" r="1.8" stroke="#000" stroke-width="1.2" fill="none"/>
<path d="M324 272 L331 274.4 L324 276.6 Z" stroke="#000" stroke-width="0.5" fill="#000"/>
<path d="M287.4 244 V236.4 Q287.4 233 292 231.6 Q300 228.4 302 231 Q306 232.6 306 236.4 V244" stroke="#000" stroke-width="1.2" fill="none"/>
<rect x="293.6" y="235.4" width="6" height="8.6" rx="0" stroke="#000" stroke-width="1" fill="none"/>
<circle cx="290.4" cy="237.4" r="1.4" stroke="#000" stroke-width="1.1" fill="none"/>
<circle cx="303" cy="237.4" r="1.4" stroke="#000" stroke-width="1.1" fill="none"/>
<circle cx="290.4" cy="243" r="1.4" stroke="#000" stroke-width="1.1" fill="none"/>
<circle cx="303" cy="243" r="1.4" stroke="#000" stroke-width="1.1" fill="none"/>
<circle cx="287.2" cy="284.4" r="3" stroke="#000" stroke-width="0.8" fill="none"/>
<circle cx="287.2" cy="284.4" r="1.05" stroke="#000" stroke-width="0.8" fill="#000"/>
<circle cx="306.6" cy="280.6" r="2.6" stroke="#000" stroke-width="0.8" fill="none"/>
<circle cx="306.6" cy="280.6" r="0.91" stroke="#000" stroke-width="0.8" fill="#000"/>
<circle cx="327.4" cy="279.4" r="2.4" stroke="#000" stroke-width="1.5" fill="none"/>
<circle cx="327.4" cy="279.4" r="0.84" stroke="#000" stroke-width="0.8" fill="#000"/>
<path d="M312 282 l2 3 l2 -3" stroke="#777" stroke-width="0.7" fill="none"/>
<circle cx="272" cy="217" r="2.5" stroke="#000" stroke-width="1.3" fill="none"/>
<circle cx="272" cy="217" r="0.88" stroke="#000" stroke-width="0.8" fill="#000"/>
<circle cx="268.4" cy="229.4" r="2.4" stroke="#000" stroke-width="0.9" fill="none"/>
<circle cx="268.4" cy="229.4" r="0.84" stroke="#000" stroke-width="0.8" fill="#000"/>
<path d="M280 204 V218 M283 204 V218 M286 206 V218 M289 207 V218" stroke="#333" stroke-width="0.7" fill="none"/>
<path d="M279 218 H291 M283 222.6 H304" stroke="#000" stroke-width="1.6" fill="none"/>
<circle cx="387.3" cy="229.6" r="2" stroke="#000" stroke-width="1" fill="none"/>
<circle cx="387.3" cy="229.6" r="0.7" stroke="#000" stroke-width="0.8" fill="#000"/>
<circle cx="387.3" cy="245.2" r="2" stroke="#000" stroke-width="1" fill="none"/>
<circle cx="387.3" cy="245.2" r="0.7" stroke="#000" stroke-width="0.8" fill="#000"/>
<line x1="386" y1="231.6" x2="386" y2="243.2" stroke="#000" stroke-width="1"/>
<line x1="388.6" y1="231.6" x2="388.6" y2="243.2" stroke="#000" stroke-width="1"/>
<circle cx="419.3" cy="229.6" r="2" stroke="#000" stroke-width="1" fill="none"/>
<circle cx="419.3" cy="229.6" r="0.7" stroke="#000" stroke-width="0.8" fill="#000"/>
<circle cx="419.3" cy="245.2" r="2" stroke="#000" stroke-width="1" fill="none"/>
<circle cx="419.3" cy="245.2" r="0.7" stroke="#000" stroke-width="0.8" fill="#000"/>
<line x1="418" y1="231.6" x2="418" y2="243.2" stroke="#000" stroke-width="1"/>
<line x1="420.6" y1="231.6" x2="420.6" y2="243.2" stroke="#000" stroke-width="1"/>
<path d="M347 265 V255 L351 249.4 H367 L371.4 255 V265 Z" stroke="#000" stroke-width="1.5" fill="none"/>
<circle cx="350" cy="254.6" r="1.5" stroke="#000" stroke-width="1.2" fill="none"/>
<circle cx="368.4" cy="254.6" r="1.5" stroke="#000" stroke-width="1.2" fill="none"/>
<circle cx="350" cy="263" r="1.5" stroke="#000" stroke-width="1.2" fill="none"/>
<circle cx="368.4" cy="263" r="1.5" stroke="#000" stroke-width="1.2" fill="none"/>
<line x1="355" y1="262" x2="363" y2="262" stroke="#000" stroke-width="1.6"/>
<circle cx="379.8" cy="260" r="3.3" stroke="#000" stroke-width="1.6" fill="none"/>
<circle cx="387.6" cy="262.4" r="2.1" stroke="#000" stroke-width="0.9" fill="none"/>
<circle cx="387.6" cy="262.4" r="0.73" stroke="#000" stroke-width="0.8" fill="#000"/>
<path d="M384.6 274.6 Q392 270 398 274.8 L401.6 277.6 Q403 281 399 283 Q392 286 387 282 L384 278.6 Q383 276 384.6 274.6 Z" stroke="#000" stroke-width="1.4" fill="none"/>
<circle cx="385.8" cy="276.4" r="1.7" stroke="#000" stroke-width="1.2" fill="none"/>
<circle cx="399.8" cy="279.6" r="1.7" stroke="#000" stroke-width="1.2" fill="none"/>
<circle cx="357.6" cy="279.2" r="2.4" stroke="#000" stroke-width="0.9" fill="none"/>
<circle cx="357.6" cy="279.2" r="0.84" stroke="#000" stroke-width="0.8" fill="#000"/>
<circle cx="432.6" cy="218" r="2" stroke="#000" stroke-width="0.9" fill="none"/>
<circle cx="432.6" cy="218" r="0.7" stroke="#000" stroke-width="0.8" fill="#000"/>
<line x1="413" y1="257.6" x2="459" y2="257.6" stroke="#000" stroke-width="2"/>
<path d="M424.6 257.6 V331" stroke="#000" stroke-width="2" fill="none"/>
<path d="M426.8 259 V331" stroke="#333" stroke-width="0.8" fill="none"/>
<line x1="426.8" y1="268.8" x2="459" y2="268.8" stroke="#000" stroke-width="1.3"/>
<line x1="426.8" y1="266.6" x2="455" y2="266.6" stroke="#777" stroke-width="0.7"/>
<path d="M459 257.6 L472 272" stroke="#000" stroke-width="1" fill="none"/>
<path d="M459 268.8 V329" stroke="#000" stroke-width="1.1" fill="none"/>
<line x1="459" y1="296" x2="459" y2="303" stroke="#000" stroke-width="2.2"/>
<circle cx="444.4" cy="262.4" r="3.4" stroke="#000" stroke-width="1.5" fill="none" stroke-dasharray="2.2 0.8"/>
<circle cx="432.4" cy="279" r="3.4" stroke="#000" stroke-width="1.5" fill="none" stroke-dasharray="2.2 0.8"/>
<circle cx="444.4" cy="279" r="3.4" stroke="#000" stroke-width="1.5" fill="none" stroke-dasharray="2.2 0.8"/>
<rect x="415.4" y="258.6" width="9.2" height="25.4" rx="2" stroke="#000" stroke-width="1" fill="none"/>
<circle cx="420.4" cy="262.4" r="1.8" stroke="#000" stroke-width="1.2" fill="none"/>
<circle cx="420.4" cy="279" r="1.8" stroke="#000" stroke-width="1.2" fill="none"/>
<path d="M421 256 l2 -3" stroke="#000" stroke-width="1.2" fill="none"/>
<rect x="426.4" y="333" width="24.6" height="13.6" rx="0" stroke="#000" stroke-width="1" fill="none"/>
<line x1="426" y1="332" x2="451.4" y2="332" stroke="#000" stroke-width="2.2"/>
<line x1="426" y1="347.2" x2="451.4" y2="347.2" stroke="#000" stroke-width="2.2"/>
<line x1="438.6" y1="329.6" x2="438.6" y2="336" stroke="#000" stroke-width="0.9"/>
<rect x="425" y="328.8" width="140" height="2.6" rx="0" stroke="#555" stroke-width="0.8" fill="#ddd"/>
<line x1="451" y1="333" x2="461" y2="333" stroke="#777" stroke-width="0.8"/>
</g>
<g id="engfront">
<path d="M426.8 134.4 H449.6 L452 141.4 L453 144.4" stroke="#000" stroke-width="1" fill="none"/>
<line x1="411.8" y1="145.4" x2="451" y2="145.4" stroke="#555" stroke-width="1.2"/>
<line x1="411.8" y1="148.6" x2="466" y2="148.6" stroke="#000" stroke-width="1"/>
<rect x="455" y="141" width="6" height="7" rx="0" stroke="#000" stroke-width="0.9" fill="none"/>
<rect x="456.4" y="139.4" width="3.2" height="1.6" rx="0" stroke="#000" stroke-width="0.8" fill="none"/>
<path d="M442.6 150.6 L444.8 148 L447 150.6 Z" stroke="#000" stroke-width="0.5" fill="#000"/>
<path d="M440 149.2 L433 156.2 H422.6" stroke="#333" stroke-width="0.9" fill="none"/>
<circle cx="433.5" cy="163.8" r="3.9" stroke="#000" stroke-width="1.5" fill="none"/>
<circle cx="433.5" cy="163.8" r="0.6" stroke="#000" stroke-width="0.6" fill="#000"/>
<circle cx="449.5" cy="156.6" r="3" stroke="#000" stroke-width="0.8" fill="none"/>
<circle cx="449.5" cy="156.6" r="1.7" stroke="#000" stroke-width="0.8" fill="none"/>
<circle cx="449.5" cy="156.6" r="0.5" stroke="#000" stroke-width="0.5" fill="#000"/>
<circle cx="459.6" cy="155.6" r="3.3" stroke="#000" stroke-width="1.6" fill="none"/>
<circle cx="459.6" cy="155.6" r="1.6" stroke="#000" stroke-width="0.7" fill="none"/>
<circle cx="462" cy="162.6" r="1.3" stroke="#000" stroke-width="0.9" fill="none"/>
<line x1="466" y1="112" x2="466" y2="166" stroke="#000" stroke-width="1"/>
<path d="M411.4 153 H416 Q421 153 423 158 Q427.4 163.6 424 170 Q421 174.6 415 174.6 H411.4" stroke="#000" stroke-width="1.3" fill="none"/>
<path d="M417 158 H422 M417 170 H422 M417.6 158 V170" stroke="#000" stroke-width="0.9" fill="none"/>
<rect x="411.4" y="155" width="5.2" height="3.6" rx="0" stroke="#000" stroke-width="1" fill="#555"/>
<rect x="411.4" y="169" width="5.2" height="3.6" rx="0" stroke="#000" stroke-width="1" fill="#555"/>
<rect x="420" y="171.6" width="7" height="4.8" rx="0" stroke="#000" stroke-width="1" fill="#444"/>
<circle cx="432" cy="173" r="1.7" stroke="#000" stroke-width="1" fill="#777"/>
<line x1="410" y1="176.6" x2="437.4" y2="176.6" stroke="#000" stroke-width="1.5"/>
<line x1="410" y1="178.6" x2="437.4" y2="178.6" stroke="#777" stroke-width="0.8"/>
<circle cx="422" cy="182.4" r="2.5" stroke="#000" stroke-width="0.9" fill="none"/>
<circle cx="422" cy="182.4" r="0.88" stroke="#000" stroke-width="0.8" fill="#000"/>
<circle cx="420.2" cy="197" r="4.5" stroke="#000" stroke-width="1.6" fill="none"/>
<path d="M409 206 L413 199 Q414 191 420.2 190.8 Q427.4 191 427 198 Q426.6 203.6 420 203.8 L413 204 Q411 208 408 210" stroke="#000" stroke-width="1" fill="none"/>
<circle cx="413" cy="199.4" r="0.9" stroke="#000" stroke-width="0.8" fill="none"/>
<path d="M404 207 Q409 210 408 214 Q407 218 402 218" stroke="#000" stroke-width="1.4" fill="none"/>
<rect x="437.2" y="171" width="9.8" height="27.4" rx="0" stroke="#000" stroke-width="1.2" fill="#fff"/>
<rect x="436.4" y="171" width="4.6" height="7" rx="0" stroke="#000" stroke-width="0.4" fill="#000"/>
<rect x="436" y="182" width="5" height="6.4" rx="0" stroke="#000" stroke-width="0.4" fill="#000"/>
<line x1="441" y1="180" x2="447" y2="180" stroke="#000" stroke-width="1"/>
<path d="M441 166.6 H466 V171 M447 166.6 V199.6 H470" stroke="#000" stroke-width="1.5" fill="none"/>
<rect x="449.4" y="167.4" width="6" height="7.6" rx="0" stroke="#000" stroke-width="0.4" fill="#000"/>
<rect x="463.4" y="170.4" width="6.6" height="7.2" rx="0" stroke="#000" stroke-width="0.4" fill="#000"/>
<rect x="457.6" y="170.4" width="3.4" height="28.2" rx="0" stroke="#000" stroke-width="1.3" fill="#fff"/>
<rect x="447" y="178" width="10.6" height="4" rx="0" stroke="#000" stroke-width="1.2" fill="#fff"/>
<rect x="461" y="178" width="9" height="4" rx="0" stroke="#000" stroke-width="1.2" fill="#fff"/>
<rect x="455.6" y="167.6" width="7.4" height="2.8" rx="0" stroke="#000" stroke-width="1" fill="#fff"/>
<line x1="447.6" y1="176.4" x2="457" y2="176.4" stroke="#000" stroke-width="1.6"/>
<line x1="461.6" y1="184" x2="470" y2="184" stroke="#000" stroke-width="1.4"/>
<line x1="447.6" y1="184" x2="457" y2="184" stroke="#000" stroke-width="1.4"/>
<rect x="448.2" y="185.6" width="6" height="9.8" rx="2" stroke="#000" stroke-width="0.4" fill="#000"/>
<line x1="449.2" y1="188.2" x2="453.6" y2="188.2" stroke="#fff" stroke-width="0.9"/>
<line x1="449.2" y1="190.6" x2="453.6" y2="190.6" stroke="#fff" stroke-width="0.9"/>
<line x1="449.2" y1="193" x2="453.6" y2="193" stroke="#fff" stroke-width="0.9"/>
<rect x="464.4" y="185.6" width="6" height="9.8" rx="2" stroke="#000" stroke-width="0.4" fill="#000"/>
<line x1="465.4" y1="188.2" x2="469.8" y2="188.2" stroke="#fff" stroke-width="0.9"/>
<line x1="465.4" y1="190.6" x2="469.8" y2="190.6" stroke="#fff" stroke-width="0.9"/>
<line x1="465.4" y1="193" x2="469.8" y2="193" stroke="#fff" stroke-width="0.9"/>
<rect x="449" y="195.4" width="7" height="4" rx="0" stroke="#000" stroke-width="0.4" fill="#000"/>
<rect x="464" y="195.4" width="6" height="4" rx="0" stroke="#000" stroke-width="0.4" fill="#000"/>
<rect x="452.4" y="200" width="17.6" height="17" rx="0" stroke="#000" stroke-width="1.1" fill="#fff"/>
<rect x="461" y="203" width="6" height="8" rx="0" stroke="#000" stroke-width="0.4" fill="#000"/>
<rect x="453.4" y="209" width="7.6" height="6" rx="0" stroke="#333" stroke-width="0.6" fill="#aaa"/>
<line x1="457" y1="200" x2="457" y2="209" stroke="#000" stroke-width="1"/>
<rect x="466" y="211" width="4" height="6" rx="0" stroke="#000" stroke-width="0.4" fill="#333"/>
<ellipse cx="448.3" cy="208.3" rx="3" ry="5" stroke="#000" stroke-width="1.6" fill="#fff"/>
<path d="M447.4 205 V207.6 M449.4 205 V207.6 M447.4 209.4 V211.6 M449.4 209.4 V211.6" stroke="#000" stroke-width="0.8" fill="none"/>
<line x1="471" y1="160" x2="471" y2="224" stroke="#000" stroke-width="2.6"/>
<path d="M452.6 218 V252 M462.8 218 V249 L457.6 256.6 V259" stroke="#000" stroke-width="1.1" fill="none"/>
<path d="M455.6 221 V232 M455.6 223 L457 228" stroke="#333" stroke-width="0.9" fill="none"/>
<path d="M456 246 Q456 250 459.6 250" stroke="#000" stroke-width="1.2" fill="none"/>
</g>
<g id="rad">
<path d="M448.2 131 V116 A25 25 0 0 1 473.2 91 H533" stroke="#222" stroke-width="1" fill="none"/>
<rect x="448.2" y="129.8" width="17.8" height="3.6" rx="0" stroke="#333" stroke-width="0.8" fill="#ccc"/>
<line x1="456.6" y1="129.8" x2="456.6" y2="133.4" stroke="#333" stroke-width="0.7"/>
<line x1="436" y1="134.6" x2="448" y2="134.6" stroke="#777" stroke-width="0.7"/>
<path d="M445.4 131.4 L448.4 129.6 L448.4 133.2 Z" stroke="#000" stroke-width="0.5" fill="#000"/>
<rect x="533" y="88.4" width="3.4" height="22.6" rx="0" stroke="#000" stroke-width="0.7" fill="#222"/>
<rect x="536.4" y="96" width="1.8" height="14" rx="0" stroke="#000" stroke-width="0.6" fill="#fff"/>
<rect x="534" y="100" width="2" height="3.6" rx="0" stroke="#fff" stroke-width="0.4" fill="#fff"/>
<rect x="528.6" y="104.6" width="3.4" height="2.8" rx="0" stroke="#333" stroke-width="0.8" fill="none"/>
<rect x="469.8" y="107.4" width="63.2" height="2.8" rx="0" stroke="#000" stroke-width="1" fill="#fff"/>
<line x1="469.8" y1="108.8" x2="533" y2="108.8" stroke="#777" stroke-width="0.6"/>
<ellipse cx="521" cy="110.6" rx="2.6" ry="1.4" stroke="#000" stroke-width="0.5" fill="#000"/>
<rect x="472.6" y="103.2" width="3.4" height="4.2" rx="0" stroke="#000" stroke-width="0.9" fill="#fff"/>
<circle cx="474.3" cy="103.4" r="1.6" stroke="#000" stroke-width="1" fill="#fff"/>
<path d="M469.8 110.2 H478.6 V116 Q478.6 118 476.6 118 H471.8 Q469.8 118 469.8 116 Z" stroke="#000" stroke-width="1.1" fill="#fff"/>
<line x1="469.8" y1="113.4" x2="478.6" y2="113.4" stroke="#000" stroke-width="0.8"/>
<circle cx="474.3" cy="119.8" r="1.7" stroke="#000" stroke-width="1.1" fill="#333"/>
<path d="M469.8 113 Q466.4 114 466.4 118 V158" stroke="#000" stroke-width="1" fill="none"/>
<path d="M471 117.6 Q468.6 118.4 468.6 121 V156" stroke="#000" stroke-width="1" fill="none"/>
<path d="M472 154 V297 H514 V288.8 H525.4" stroke="#000" stroke-width="1.2" fill="none"/>
<path d="M498.4 112 L471.6 154.2" stroke="#000" stroke-width="1.3" fill="none"/>
<line x1="498.4" y1="112" x2="525.4" y2="112" stroke="#000" stroke-width="1.2"/>
<circle cx="489" cy="126.4" r="1.2" stroke="#000" stroke-width="1" fill="#000"/>
<circle cx="479.4" cy="141.4" r="1.2" stroke="#000" stroke-width="1" fill="#000"/>
<path d="M474 297 V294 H476" stroke="#000" stroke-width="0.8" fill="none"/>
<path d="M503.3 119.8 L503.3 124.1 L500.75 124.1 L500.75 128.4 L498.2 128.4 L498.2 132.7 L495.65 132.7 L495.65 137 L493.1 137 L493.1 141.3 L490.55 141.3 L490.55 145.6 L488 145.6 L488 149.9 L485.45 149.9 L485.45 154.2 L482.9 154.2 L482.9 158.5 L480.35 158.5 L480.35 162.8 L477.6 162.8 L477.6 286 L510.8 286 L510.8 119.8 Z" stroke="#000" stroke-width="0.6" fill="#000"/>
<line x1="502.6" y1="124" x2="502.6" y2="262" stroke="#fff" stroke-width="0.8" stroke-dasharray="6 1.3"/>
<line x1="505.4" y1="124" x2="505.4" y2="262" stroke="#fff" stroke-width="0.8" stroke-dasharray="6 1.3"/>
<line x1="508.2" y1="124" x2="508.2" y2="262" stroke="#fff" stroke-width="0.8" stroke-dasharray="6 1.3"/>
<line x1="499.8" y1="140" x2="499.8" y2="176" stroke="#fff" stroke-width="0.8" stroke-dasharray="4 1.6"/>
<line x1="499.8" y1="204" x2="499.8" y2="262" stroke="#fff" stroke-width="0.9" stroke-dasharray="5 1.6"/>
<line x1="497.2" y1="232" x2="497.2" y2="270" stroke="#fff" stroke-width="0.9" stroke-dasharray="5 1.8"/>
<line x1="480.2" y1="186" x2="480.2" y2="284" stroke="#fff" stroke-width="0.8" stroke-dasharray="5 1.6"/>
<line x1="482.8" y1="186" x2="482.8" y2="284" stroke="#fff" stroke-width="0.8" stroke-dasharray="5 1.6"/>
<line x1="485.4" y1="190" x2="485.4" y2="284" stroke="#fff" stroke-width="0.9" stroke-dasharray="5 1.8"/>
<line x1="488" y1="194" x2="488" y2="206" stroke="#fff" stroke-width="0.8" stroke-dasharray="4 1.6"/>
<line x1="488" y1="238" x2="488" y2="284" stroke="#fff" stroke-width="0.9" stroke-dasharray="5 1.8"/>
<line x1="490.6" y1="238" x2="490.6" y2="284" stroke="#fff" stroke-width="0.9" stroke-dasharray="5 1.8"/>
<line x1="493.2" y1="238" x2="493.2" y2="284" stroke="#fff" stroke-width="0.9" stroke-dasharray="5 1.8"/>
<line x1="495.8" y1="256" x2="495.8" y2="284" stroke="#fff" stroke-width="0.9" stroke-dasharray="5 1.8"/>
<line x1="498.4" y1="268" x2="498.4" y2="284" stroke="#fff" stroke-width="0.8" stroke-dasharray="4 2"/>
<line x1="491" y1="182" x2="491" y2="196" stroke="#fff" stroke-width="0.7" stroke-dasharray="3 2"/>
<rect x="525.4" y="112" width="27" height="173" rx="0" stroke="#000" stroke-width="1.2" fill="#fff"/>
<line x1="527.4" y1="112" x2="527.4" y2="285" stroke="#aaa" stroke-width="0.6"/>
<path d="M538.2 112 V84 L541.8 79 H557.4 L560.8 84 V312.2 H538.2 V285" stroke="#000" stroke-width="1.2" fill="none"/>
<line x1="552.4" y1="285" x2="552.4" y2="312" stroke="#000" stroke-width="0"/>
<line x1="557.4" y1="84" x2="557.4" y2="312" stroke="#777" stroke-width="0.7"/>
<line x1="538.2" y1="84" x2="560.8" y2="84" stroke="#000" stroke-width="0.9"/>
<rect x="545" y="73.8" width="10" height="5.2" rx="0" stroke="#000" stroke-width="0.9" fill="none"/>
<rect x="542.2" y="70.8" width="15.4" height="3" rx="0" stroke="#000" stroke-width="1.1" fill="#fff"/>
<path d="M542.4 84 Q543.4 76 546 74" stroke="#333" stroke-width="0.7" fill="none"/>
<path d="M547 91.6 Q547 87 549.4 87 Q551.8 87 551.8 91.6 Q552.6 95.6 549.4 95.8 Q546.2 95.6 547 91.6 Z" stroke="#333" stroke-width="0.9" fill="none"/>
<rect x="560.8" y="94" width="1.4" height="6" rx="0" stroke="#000" stroke-width="0.5" fill="#000"/>
<path d="M560.8 296 Q564.4 297 564.4 302.6 Q564.4 308 560.8 309 Z" stroke="#000" stroke-width="0.6" fill="#222"/>
<circle cx="546" cy="119.6" r="1.9" stroke="#000" stroke-width="0.8" fill="#444"/>
<circle cx="546" cy="172.4" r="1.9" stroke="#000" stroke-width="0.8" fill="#444"/>
<circle cx="546" cy="225.2" r="1.9" stroke="#000" stroke-width="0.8" fill="#444"/>
<circle cx="546" cy="278" r="1.9" stroke="#000" stroke-width="0.8" fill="#444"/>
<circle cx="521.4" cy="136" r="1.5" stroke="#000" stroke-width="0.9" fill="none"/>
<circle cx="521.4" cy="139" r="1.7" stroke="#777" stroke-width="0.7" fill="none"/>
<circle cx="521.4" cy="199" r="1.5" stroke="#000" stroke-width="0.9" fill="none"/>
<circle cx="521.4" cy="202" r="1.7" stroke="#777" stroke-width="0.7" fill="none"/>
<circle cx="521.4" cy="262" r="1.5" stroke="#000" stroke-width="0.9" fill="none"/>
<circle cx="521.4" cy="265" r="1.7" stroke="#777" stroke-width="0.7" fill="none"/>
<path d="M514 297 H504.4 M514 288.8 V297" stroke="#000" stroke-width="1" fill="none"/>
<path d="M525.4 285 V288.8 H532.6 V307.4 H519" stroke="#000" stroke-width="1" fill="none"/>
<rect x="533" y="288" width="4.4" height="22" rx="0" stroke="#000" stroke-width="0.5" fill="#000"/>
<line x1="535.2" y1="290" x2="535.2" y2="309" stroke="#fff" stroke-width="1.2" stroke-dasharray="3 2.4"/>
<path d="M504.4 297 L528.4 313.6 V320" stroke="#000" stroke-width="1" fill="none"/>
<path d="M507.4 297 L530.6 312.6 V320" stroke="#000" stroke-width="1" fill="none"/>
<rect x="538.8" y="312.2" width="21" height="7.2" rx="0" stroke="#000" stroke-width="1" fill="none"/>
<line x1="541.6" y1="312.2" x2="541.6" y2="320" stroke="#000" stroke-width="0.9"/>
<line x1="544" y1="312.2" x2="544" y2="320" stroke="#000" stroke-width="0.9"/>
<path d="M548 319 V316 Q550.4 313 553 316 V319" stroke="#000" stroke-width="0.9" fill="none"/>
<path d="M523.4 329 V324 Q523.4 320.2 527.4 320.2 H559.4 Q563.4 320.2 563.4 324 V329" stroke="#000" stroke-width="1.1" fill="none"/>
<path d="M525.4 329 V325 Q525.4 322.2 528.4 322.2 H558.4 Q561.4 322.2 561.4 325 V329" stroke="#333" stroke-width="0.8" fill="none"/>
<path d="M545.4 324 Q550.4 333 556 324 Z" stroke="#000" stroke-width="0.6" fill="#222"/>
<rect x="540.9" y="323" width="2.5" height="20.4" rx="0" stroke="#000" stroke-width="0.9" fill="#fff"/>
</g>
<g id="front">
<rect x="619" y="347.2" width="26.4" height="131.2" rx="0" stroke="#000" stroke-width="1.3" fill="#fff"/>
<rect x="863.4" y="347.2" width="25.6" height="131.2" rx="0" stroke="#000" stroke-width="1.3" fill="#fff"/>
<line x1="645.4" y1="347.2" x2="863.4" y2="347.2" stroke="#333" stroke-width="0.9"/>
<line x1="618" y1="347" x2="646" y2="347" stroke="#000" stroke-width="2"/>
<line x1="863" y1="347" x2="890" y2="347" stroke="#000" stroke-width="2"/>
<line x1="618.6" y1="347" x2="618.6" y2="360" stroke="#000" stroke-width="2"/>
<line x1="889.4" y1="347" x2="889.4" y2="360" stroke="#000" stroke-width="2"/>
<rect x="645.4" y="366.4" width="218" height="82.8" rx="0" stroke="#000" stroke-width="1.3" fill="none"/>
<line x1="645.8" y1="366" x2="645.8" y2="449" stroke="#000" stroke-width="1.8"/>
<circle cx="631.8" cy="386" r="5" stroke="#000" stroke-width="1.2" fill="none"/>
<circle cx="875.8" cy="386" r="5" stroke="#000" stroke-width="1.2" fill="none"/>
<rect x="748.4" y="449.2" width="10.6" height="6.2" rx="0" stroke="#333" stroke-width="0.9" fill="none"/>
<rect x="838.6" y="361.6" width="13.4" height="4.8" rx="0" stroke="#777" stroke-width="0.7" fill="none"/>
<rect x="617" y="293.6" width="44" height="52.8" rx="0" stroke="#444" stroke-width="0.9" fill="#fff"/>
<line x1="616" y1="293.8" x2="662" y2="293.8" stroke="#000" stroke-width="1.6"/>
<line x1="616" y1="296.8" x2="662" y2="296.8" stroke="#000" stroke-width="1.2"/>
<rect x="618.8" y="288.8" width="22.4" height="4.8" rx="0" stroke="#333" stroke-width="0.9" fill="#fff"/>
<rect x="647.6" y="288.8" width="4.8" height="4.8" rx="0" stroke="#333" stroke-width="0.9" fill="#fff"/>
<path d="M625.8 297 V309 Q626.4 316.4 634 316.4 H644 Q651.6 316.4 652.2 309 V297" stroke="#000" stroke-width="1.8" fill="none"/>
<path d="M627.6 297 V303 M650.4 297 V303" stroke="#000" stroke-width="1.4" fill="none"/>
<rect x="636" y="315.4" width="9" height="2.2" rx="0" stroke="#333" stroke-width="0.6" fill="#fff"/>
<rect x="615.6" y="329.6" width="46.8" height="16.8" rx="0" stroke="#333" stroke-width="1" fill="none"/>
<line x1="615.6" y1="340.4" x2="662.4" y2="340.4" stroke="#000" stroke-width="1" stroke-dasharray="3.4 1.6"/>
<path d="M622 339 V336.4 H627 V337.6 H634 V336.4 H641 V337.6 H648 V336.4 H655 V339" stroke="#777" stroke-width="0.7" fill="none"/>
<line x1="628.6" y1="140" x2="628.6" y2="346" stroke="#333" stroke-width="0.8"/>
<line x1="619.4" y1="297" x2="619.4" y2="346" stroke="#aaa" stroke-width="0.6"/>
<line x1="659.4" y1="297" x2="659.4" y2="346" stroke="#aaa" stroke-width="0.6"/>
<path d="M663.4 140.2 H628.4 V289" stroke="#000" stroke-width="1.1" fill="none"/>
<rect x="617.4" y="192.8" width="9.2" height="8.8" rx="0" stroke="#000" stroke-width="1" fill="none"/>
<path d="M664 136 Q655.6 140 655.6 152 Q655.6 164 664 168" stroke="#777" stroke-width="0.8" fill="none"/>
<rect x="664.2" y="82.2" width="15.8" height="213.2" rx="0" stroke="#000" stroke-width="1" fill="#fff"/>
<line x1="663.4" y1="110" x2="663.4" y2="290" stroke="#000" stroke-width="1"/>
<rect x="662.2" y="110.8" width="2" height="2.4" rx="0" stroke="#000" stroke-width="0.4" fill="#000"/>
<rect x="662.2" y="123.8" width="2" height="2.4" rx="0" stroke="#000" stroke-width="0.4" fill="#000"/>
<rect x="662.2" y="133.8" width="2" height="2.4" rx="0" stroke="#000" stroke-width="0.4" fill="#000"/>
<rect x="662.2" y="165.8" width="2" height="2.4" rx="0" stroke="#000" stroke-width="0.4" fill="#000"/>
<rect x="662.2" y="196.8" width="2" height="2.4" rx="0" stroke="#000" stroke-width="0.4" fill="#000"/>
<rect x="662.2" y="225.8" width="2" height="2.4" rx="0" stroke="#000" stroke-width="0.4" fill="#000"/>
<rect x="662.2" y="258.8" width="2" height="2.4" rx="0" stroke="#000" stroke-width="0.4" fill="#000"/>
<rect x="662.2" y="268.8" width="2" height="2.4" rx="0" stroke="#000" stroke-width="0.4" fill="#000"/>
<rect x="673.2" y="109.6" width="162" height="173.6" rx="0" stroke="#000" stroke-width="1" fill="#fff"/>
<path d="M675.05 109.6 V283.2 M679.96 109.6 V283.2 M684.87 109.6 V283.2 M689.78 109.6 V283.2 M694.69 109.6 V283.2 M699.6 109.6 V283.2 M704.51 109.6 V283.2 M709.42 109.6 V283.2 M714.33 109.6 V283.2 M719.24 109.6 V283.2 M724.15 109.6 V283.2 M729.06 109.6 V283.2 M733.97 109.6 V283.2 M738.88 109.6 V283.2 M743.79 109.6 V283.2 M748.7 109.6 V283.2 M753.61 109.6 V283.2 M758.52 109.6 V283.2 M763.43 109.6 V283.2 M768.34 109.6 V283.2 M773.25 109.6 V283.2 M778.16 109.6 V283.2 M783.07 109.6 V283.2 M787.98 109.6 V283.2 M792.89 109.6 V283.2 M797.8 109.6 V283.2 M802.71 109.6 V283.2 M807.62 109.6 V283.2 M812.53 109.6 V283.2 M817.44 109.6 V283.2 M822.35 109.6 V283.2 M827.26 109.6 V283.2 M832.17 109.6 V283.2" stroke="#a8a8a8" stroke-width="1.9" fill="none" shape-rendering="crispEdges"/>
<path d="M673.8 109.6 V283.2 M676.26 109.6 V283.2 M678.71 109.6 V283.2 M681.17 109.6 V283.2 M683.62 109.6 V283.2 M686.08 109.6 V283.2 M688.53 109.6 V283.2 M690.99 109.6 V283.2 M693.44 109.6 V283.2 M695.9 109.6 V283.2 M698.35 109.6 V283.2 M700.81 109.6 V283.2 M703.26 109.6 V283.2 M705.72 109.6 V283.2 M708.17 109.6 V283.2 M710.63 109.6 V283.2 M713.08 109.6 V283.2 M715.54 109.6 V283.2 M717.99 109.6 V283.2 M720.45 109.6 V283.2 M722.9 109.6 V283.2 M725.36 109.6 V283.2 M727.81 109.6 V283.2 M730.27 109.6 V283.2 M732.72 109.6 V283.2 M735.18 109.6 V283.2 M737.63 109.6 V283.2 M740.09 109.6 V283.2 M742.54 109.6 V283.2 M745 109.6 V283.2 M747.45 109.6 V283.2 M749.91 109.6 V283.2 M752.36 109.6 V283.2 M754.82 109.6 V283.2 M757.27 109.6 V283.2 M759.73 109.6 V283.2 M762.18 109.6 V283.2 M764.64 109.6 V283.2 M767.09 109.6 V283.2 M769.55 109.6 V283.2 M772 109.6 V283.2 M774.46 109.6 V283.2 M776.91 109.6 V283.2 M779.37 109.6 V283.2 M781.82 109.6 V283.2 M784.28 109.6 V283.2 M786.73 109.6 V283.2 M789.19 109.6 V283.2 M791.64 109.6 V283.2 M794.1 109.6 V283.2 M796.55 109.6 V283.2 M799.01 109.6 V283.2 M801.46 109.6 V283.2 M803.92 109.6 V283.2 M806.37 109.6 V283.2 M808.83 109.6 V283.2 M811.28 109.6 V283.2 M813.74 109.6 V283.2 M816.19 109.6 V283.2 M818.65 109.6 V283.2 M821.1 109.6 V283.2 M823.56 109.6 V283.2 M826.01 109.6 V283.2 M828.47 109.6 V283.2 M830.92 109.6 V283.2 M833.38 109.6 V283.2" stroke="#000" stroke-width="1" fill="none" shape-rendering="crispEdges"/>
<line x1="693.2" y1="109.6" x2="693.2" y2="283.2" stroke="#000" stroke-width="1.8"/>
<line x1="722.6" y1="109.6" x2="722.6" y2="283.2" stroke="#000" stroke-width="1.8"/>
<line x1="752" y1="109.6" x2="752" y2="283.2" stroke="#000" stroke-width="1.8"/>
<line x1="781.6" y1="109.6" x2="781.6" y2="283.2" stroke="#000" stroke-width="1.8"/>
<line x1="811" y1="109.6" x2="811" y2="283.2" stroke="#000" stroke-width="1.8"/>
<line x1="673.2" y1="109.6" x2="835.2" y2="109.6" stroke="#000" stroke-width="1.6"/>
<line x1="673.2" y1="283.2" x2="835.2" y2="283.2" stroke="#000" stroke-width="1.2"/>
<line x1="628.4" y1="140.2" x2="702" y2="140.2" stroke="#000" stroke-width="0.8"/>
<rect x="676.4" y="111" width="2" height="2.4" rx="0" stroke="#000" stroke-width="0.3" fill="#000"/>
<rect x="719" y="111" width="2" height="2.4" rx="0" stroke="#000" stroke-width="0.3" fill="#000"/>
<rect x="729" y="111" width="2" height="2.4" rx="0" stroke="#000" stroke-width="0.3" fill="#000"/>
<rect x="740" y="111" width="2" height="2.4" rx="0" stroke="#000" stroke-width="0.3" fill="#000"/>
<rect x="759" y="111" width="2" height="2.4" rx="0" stroke="#000" stroke-width="0.3" fill="#000"/>
<rect x="832" y="111" width="2" height="2.4" rx="0" stroke="#000" stroke-width="0.3" fill="#000"/>
<rect x="676.4" y="114" width="2.2" height="5" rx="0" stroke="#000" stroke-width="0.3" fill="#000"/>
<circle cx="754" cy="192.4" r="72" stroke="#000" stroke-width="2" fill="none"/>
<circle cx="754" cy="192.4" r="70.2" stroke="#000" stroke-width="0.8" fill="none" stroke-dasharray="3 2"/>
<circle cx="754" cy="192.4" r="21.4" stroke="#000" stroke-width="1.5" fill="none"/>
<circle cx="754" cy="192.4" r="19.6" stroke="#000" stroke-width="0.8" fill="none"/>
<circle cx="754" cy="192.4" r="16.6" stroke="#000" stroke-width="1" fill="none" stroke-dasharray="2 1.2"/>
<circle cx="754" cy="192.4" r="12" stroke="#000" stroke-width="0.7" fill="none"/>
<rect x="748" y="187" width="12" height="10.8" rx="0" stroke="#000" stroke-width="0.9" fill="none"/>
<path d="M749 189.4 l3 3 l-3 3 M759 189.4 l-3 3 l3 3" stroke="#000" stroke-width="1.6" fill="none"/>
<rect x="752.4" y="190" width="3.2" height="4.8" rx="0" stroke="#000" stroke-width="0.4" fill="#000"/>
<path d="M756.61 171.16 Q765.13 147.77 785.78 130.03" stroke="#000" stroke-width="0.9" fill="none"/>
<path d="M768.59 176.75 Q789.24 162.83 816.37 160.62" stroke="#000" stroke-width="0.9" fill="none"/>
<path d="M775.01 188.32 Q799.89 189.19 823.14 203.35" stroke="#000" stroke-width="0.9" fill="none"/>
<path d="M773.39 201.44 Q793.01 216.78 803.5 241.9" stroke="#000" stroke-width="0.9" fill="none"/>
<path d="M764.37 211.12 Q771.23 235.05 764.95 261.54" stroke="#000" stroke-width="0.9" fill="none"/>
<path d="M751.39 213.64 Q742.87 237.03 722.22 254.77" stroke="#000" stroke-width="0.9" fill="none"/>
<path d="M739.41 208.05 Q718.76 221.97 691.63 224.18" stroke="#000" stroke-width="0.9" fill="none"/>
<path d="M732.99 196.48 Q708.11 195.61 684.86 181.45" stroke="#000" stroke-width="0.9" fill="none"/>
<path d="M734.61 183.36 Q714.99 168.02 704.5 142.9" stroke="#000" stroke-width="0.9" fill="none"/>
<path d="M743.63 173.68 Q736.77 149.75 743.05 123.26" stroke="#000" stroke-width="0.9" fill="none"/>
<path d="M753 123.6 L775 125 L776.4 133.8 L769 145.5 L759 147 L754.5 138 Z" stroke="#000" stroke-width="0.5" fill="#000"/>
<path d="M703.6 141 L715 139.6 L712.4 147 Z" stroke="#000" stroke-width="0.5" fill="#000"/>
<path d="M725.5 163 L738.5 165.8 L734 170 Z" stroke="#000" stroke-width="0.5" fill="#000"/>
<path d="M683 186 L715 192 L715 199 L687.6 200.7 Z" stroke="#000" stroke-width="0.5" fill="#000"/>
<path d="M705 244.4 L714 246 L711 250.6 Z" stroke="#000" stroke-width="0.5" fill="#000"/>
<rect x="785" y="230" width="7" height="3.4" rx="0" stroke="#000" stroke-width="0.5" fill="#000"/>
<path d="M815.6 212.4 L821.5 213.6 L821.5 224 L817 221 Z" stroke="#000" stroke-width="0.5" fill="#000"/>
<path d="M776.4 176 L788 172.6 L788 178.4 L778 181 Z" stroke="#000" stroke-width="0.5" fill="#000"/>
<path d="M804 159 L815.6 157 L814 163 Z" stroke="#000" stroke-width="0.5" fill="#000"/>
<line x1="738.5" y1="174.5" x2="703.6" y2="142.5" stroke="#000" stroke-width="1.2"/>
<line x1="743" y1="208" x2="708" y2="244.4" stroke="#000" stroke-width="1.2"/>
<line x1="766" y1="211" x2="792" y2="257.5" stroke="#000" stroke-width="1.2"/>
<line x1="772" y1="205" x2="812.7" y2="234" stroke="#000" stroke-width="1.2"/>
<line x1="776.4" y1="196.4" x2="821.5" y2="216.7" stroke="#000" stroke-width="1.2"/>
<line x1="776.4" y1="181.8" x2="824.4" y2="171.6" stroke="#000" stroke-width="1.2"/>
<line x1="772" y1="174.5" x2="809.8" y2="144" stroke="#000" stroke-width="1.2"/>
<line x1="760.4" y1="170.2" x2="772" y2="129.5" stroke="#000" stroke-width="1.2"/>
<line x1="748.7" y1="170.2" x2="734.2" y2="129.5" stroke="#000" stroke-width="1.2"/>
<line x1="734" y1="184" x2="688" y2="172" stroke="#000" stroke-width="1.2"/>
<line x1="733" y1="198" x2="690" y2="212" stroke="#000" stroke-width="1.2"/>
<line x1="754" y1="214" x2="754" y2="264" stroke="#000" stroke-width="1.6"/>
<line x1="708" y1="280" x2="800" y2="280" stroke="#000" stroke-width="0.8"/>
<path d="M682.8 76.7 H825.6 L829 80.6 L826.8 101.8 L835.2 109.6 H673.2 L680.8 101.8 L678.9 80.8 Z" stroke="#000" stroke-width="1.2" fill="#fff"/>
<rect x="683.4" y="76" width="142.6" height="32.4" rx="0" stroke="#000" stroke-width="0.6" fill="#000"/>
<rect x="685.9" y="80" width="2.9" height="11" rx="0" stroke="#fff" stroke-width="0.2" fill="#fff"/>
<rect x="685" y="91" width="4.7" height="2.4" rx="0" stroke="#fff" stroke-width="0.2" fill="#fff"/>
<rect x="685" y="78.2" width="4.7" height="1.2" rx="0" stroke="#fff" stroke-width="0.2" fill="#fff"/>
<rect x="685" y="95.2" width="4.7" height="5.4" rx="0" stroke="#fff" stroke-width="0.2" fill="#fff"/>
<rect x="685" y="102.4" width="4.7" height="4.8" rx="0" stroke="#fff" stroke-width="0.2" fill="#fff"/>
<rect x="691.06" y="78.2" width="4.7" height="15.2" rx="0" stroke="#fff" stroke-width="0.2" fill="#fff"/>
<rect x="691.06" y="95.2" width="4.7" height="5.4" rx="0" stroke="#fff" stroke-width="0.2" fill="#fff"/>
<rect x="691.06" y="102.4" width="4.7" height="4.8" rx="0" stroke="#fff" stroke-width="0.2" fill="#fff"/>
<rect x="697.12" y="78.2" width="4.7" height="15.2" rx="0" stroke="#fff" stroke-width="0.2" fill="#fff"/>
<rect x="697.12" y="95.2" width="4.7" height="5.4" rx="0" stroke="#fff" stroke-width="0.2" fill="#fff"/>
<rect x="697.12" y="102.4" width="4.7" height="4.8" rx="0" stroke="#fff" stroke-width="0.2" fill="#fff"/>
<rect x="704.08" y="80" width="2.9" height="11" rx="0" stroke="#fff" stroke-width="0.2" fill="#fff"/>
<rect x="703.18" y="91" width="4.7" height="2.4" rx="0" stroke="#fff" stroke-width="0.2" fill="#fff"/>
<rect x="703.18" y="78.2" width="4.7" height="1.2" rx="0" stroke="#fff" stroke-width="0.2" fill="#fff"/>
<rect x="703.18" y="95.2" width="4.7" height="5.4" rx="0" stroke="#fff" stroke-width="0.2" fill="#fff"/>
<rect x="703.18" y="102.4" width="4.7" height="4.8" rx="0" stroke="#fff" stroke-width="0.2" fill="#fff"/>
<rect x="709.24" y="78.2" width="4.7" height="15.2" rx="0" stroke="#fff" stroke-width="0.2" fill="#fff"/>
<rect x="709.24" y="95.2" width="4.7" height="5.4" rx="0" stroke="#fff" stroke-width="0.2" fill="#fff"/>
<rect x="709.24" y="102.4" width="4.7" height="4.8" rx="0" stroke="#fff" stroke-width="0.2" fill="#fff"/>
<rect x="715.3" y="78.2" width="4.7" height="15.2" rx="0" stroke="#fff" stroke-width="0.2" fill="#fff"/>
<rect x="715.3" y="95.2" width="4.7" height="5.4" rx="0" stroke="#fff" stroke-width="0.2" fill="#fff"/>
<rect x="715.3" y="102.4" width="4.7" height="4.8" rx="0" stroke="#fff" stroke-width="0.2" fill="#fff"/>
<rect x="722.26" y="80" width="2.9" height="11" rx="0" stroke="#fff" stroke-width="0.2" fill="#fff"/>
<rect x="721.36" y="91" width="4.7" height="2.4" rx="0" stroke="#fff" stroke-width="0.2" fill="#fff"/>
<rect x="721.36" y="78.2" width="4.7" height="1.2" rx="0" stroke="#fff" stroke-width="0.2" fill="#fff"/>
<rect x="721.36" y="95.2" width="4.7" height="5.4" rx="0" stroke="#fff" stroke-width="0.2" fill="#fff"/>
<rect x="721.36" y="102.4" width="4.7" height="4.8" rx="0" stroke="#fff" stroke-width="0.2" fill="#fff"/>
<rect x="727.42" y="78.2" width="4.7" height="15.2" rx="0" stroke="#fff" stroke-width="0.2" fill="#fff"/>
<rect x="727.42" y="95.2" width="4.7" height="5.4" rx="0" stroke="#fff" stroke-width="0.2" fill="#fff"/>
<rect x="727.42" y="102.4" width="4.7" height="4.8" rx="0" stroke="#fff" stroke-width="0.2" fill="#fff"/>
<rect x="733.48" y="78.2" width="4.7" height="15.2" rx="0" stroke="#fff" stroke-width="0.2" fill="#fff"/>
<rect x="733.48" y="95.2" width="4.7" height="5.4" rx="0" stroke="#fff" stroke-width="0.2" fill="#fff"/>
<rect x="733.48" y="102.4" width="4.7" height="4.8" rx="0" stroke="#fff" stroke-width="0.2" fill="#fff"/>
<rect x="740.44" y="80" width="2.9" height="11" rx="0" stroke="#fff" stroke-width="0.2" fill="#fff"/>
<rect x="739.54" y="91" width="4.7" height="2.4" rx="0" stroke="#fff" stroke-width="0.2" fill="#fff"/>
<rect x="739.54" y="78.2" width="4.7" height="1.2" rx="0" stroke="#fff" stroke-width="0.2" fill="#fff"/>
<rect x="739.54" y="95.2" width="4.7" height="5.4" rx="0" stroke="#fff" stroke-width="0.2" fill="#fff"/>
<rect x="739.54" y="102.4" width="4.7" height="4.8" rx="0" stroke="#fff" stroke-width="0.2" fill="#fff"/>
<rect x="745.6" y="78.2" width="4.7" height="15.2" rx="0" stroke="#fff" stroke-width="0.2" fill="#fff"/>
<rect x="745.6" y="95.2" width="4.7" height="5.4" rx="0" stroke="#fff" stroke-width="0.2" fill="#fff"/>
<rect x="745.6" y="102.4" width="4.7" height="4.8" rx="0" stroke="#fff" stroke-width="0.2" fill="#fff"/>
<rect x="751.66" y="78.2" width="4.7" height="15.2" rx="0" stroke="#fff" stroke-width="0.2" fill="#fff"/>
<rect x="751.66" y="95.2" width="4.7" height="5.4" rx="0" stroke="#fff" stroke-width="0.2" fill="#fff"/>
<rect x="751.66" y="102.4" width="4.7" height="4.8" rx="0" stroke="#fff" stroke-width="0.2" fill="#fff"/>
<rect x="758.62" y="80" width="2.9" height="11" rx="0" stroke="#fff" stroke-width="0.2" fill="#fff"/>
<rect x="757.72" y="91" width="4.7" height="2.4" rx="0" stroke="#fff" stroke-width="0.2" fill="#fff"/>
<rect x="757.72" y="78.2" width="4.7" height="1.2" rx="0" stroke="#fff" stroke-width="0.2" fill="#fff"/>
<rect x="757.72" y="95.2" width="4.7" height="5.4" rx="0" stroke="#fff" stroke-width="0.2" fill="#fff"/>
<rect x="757.72" y="102.4" width="4.7" height="4.8" rx="0" stroke="#fff" stroke-width="0.2" fill="#fff"/>
<rect x="763.78" y="78.2" width="4.7" height="15.2" rx="0" stroke="#fff" stroke-width="0.2" fill="#fff"/>
<rect x="763.78" y="95.2" width="4.7" height="5.4" rx="0" stroke="#fff" stroke-width="0.2" fill="#fff"/>
<rect x="763.78" y="102.4" width="4.7" height="4.8" rx="0" stroke="#fff" stroke-width="0.2" fill="#fff"/>
<rect x="769.84" y="78.2" width="4.7" height="15.2" rx="0" stroke="#fff" stroke-width="0.2" fill="#fff"/>
<rect x="769.84" y="95.2" width="4.7" height="5.4" rx="0" stroke="#fff" stroke-width="0.2" fill="#fff"/>
<rect x="769.84" y="102.4" width="4.7" height="4.8" rx="0" stroke="#fff" stroke-width="0.2" fill="#fff"/>
<rect x="776.8" y="80" width="2.9" height="11" rx="0" stroke="#fff" stroke-width="0.2" fill="#fff"/>
<rect x="775.9" y="91" width="4.7" height="2.4" rx="0" stroke="#fff" stroke-width="0.2" fill="#fff"/>
<rect x="775.9" y="78.2" width="4.7" height="1.2" rx="0" stroke="#fff" stroke-width="0.2" fill="#fff"/>
<rect x="775.9" y="95.2" width="4.7" height="5.4" rx="0" stroke="#fff" stroke-width="0.2" fill="#fff"/>
<rect x="775.9" y="102.4" width="4.7" height="4.8" rx="0" stroke="#fff" stroke-width="0.2" fill="#fff"/>
<rect x="781.96" y="78.2" width="4.7" height="15.2" rx="0" stroke="#fff" stroke-width="0.2" fill="#fff"/>
<rect x="781.96" y="95.2" width="4.7" height="5.4" rx="0" stroke="#fff" stroke-width="0.2" fill="#fff"/>
<rect x="781.96" y="102.4" width="4.7" height="4.8" rx="0" stroke="#fff" stroke-width="0.2" fill="#fff"/>
<rect x="788.02" y="78.2" width="4.7" height="15.2" rx="0" stroke="#fff" stroke-width="0.2" fill="#fff"/>
<rect x="788.02" y="95.2" width="4.7" height="5.4" rx="0" stroke="#fff" stroke-width="0.2" fill="#fff"/>
<rect x="788.02" y="102.4" width="4.7" height="4.8" rx="0" stroke="#fff" stroke-width="0.2" fill="#fff"/>
<rect x="794.98" y="80" width="2.9" height="11" rx="0" stroke="#fff" stroke-width="0.2" fill="#fff"/>
<rect x="794.08" y="91" width="4.7" height="2.4" rx="0" stroke="#fff" stroke-width="0.2" fill="#fff"/>
<rect x="794.08" y="78.2" width="4.7" height="1.2" rx="0" stroke="#fff" stroke-width="0.2" fill="#fff"/>
<rect x="794.08" y="95.2" width="4.7" height="5.4" rx="0" stroke="#fff" stroke-width="0.2" fill="#fff"/>
<rect x="794.08" y="102.4" width="4.7" height="4.8" rx="0" stroke="#fff" stroke-width="0.2" fill="#fff"/>
<rect x="800.14" y="78.2" width="4.7" height="15.2" rx="0" stroke="#fff" stroke-width="0.2" fill="#fff"/>
<rect x="800.14" y="95.2" width="4.7" height="5.4" rx="0" stroke="#fff" stroke-width="0.2" fill="#fff"/>
<rect x="800.14" y="102.4" width="4.7" height="4.8" rx="0" stroke="#fff" stroke-width="0.2" fill="#fff"/>
<rect x="806.2" y="78.2" width="4.7" height="15.2" rx="0" stroke="#fff" stroke-width="0.2" fill="#fff"/>
<rect x="806.2" y="95.2" width="4.7" height="5.4" rx="0" stroke="#fff" stroke-width="0.2" fill="#fff"/>
<rect x="806.2" y="102.4" width="4.7" height="4.8" rx="0" stroke="#fff" stroke-width="0.2" fill="#fff"/>
<rect x="813.16" y="80" width="2.9" height="11" rx="0" stroke="#fff" stroke-width="0.2" fill="#fff"/>
<rect x="812.26" y="91" width="4.7" height="2.4" rx="0" stroke="#fff" stroke-width="0.2" fill="#fff"/>
<rect x="812.26" y="78.2" width="4.7" height="1.2" rx="0" stroke="#fff" stroke-width="0.2" fill="#fff"/>
<rect x="812.26" y="95.2" width="4.7" height="5.4" rx="0" stroke="#fff" stroke-width="0.2" fill="#fff"/>
<rect x="812.26" y="102.4" width="4.7" height="4.8" rx="0" stroke="#fff" stroke-width="0.2" fill="#fff"/>
<rect x="818.32" y="78.2" width="4.7" height="15.2" rx="0" stroke="#fff" stroke-width="0.2" fill="#fff"/>
<rect x="818.32" y="95.2" width="4.7" height="5.4" rx="0" stroke="#fff" stroke-width="0.2" fill="#fff"/>
<rect x="818.32" y="102.4" width="4.7" height="4.8" rx="0" stroke="#fff" stroke-width="0.2" fill="#fff"/>
<rect x="670" y="101.6" width="3.6" height="3.6" rx="0" stroke="#000" stroke-width="0.4" fill="#000"/>
<circle cx="677.2" cy="98" r="1.6" stroke="#000" stroke-width="0.8" fill="#333"/>
<circle cx="829.6" cy="98" r="1.6" stroke="#000" stroke-width="0.8" fill="#333"/>
<rect x="834" y="101.4" width="3" height="4.6" rx="0" stroke="#000" stroke-width="0.8" fill="none"/>
<rect x="806.2" y="69.2" width="20.6" height="3" rx="0" stroke="#333" stroke-width="1" fill="#ddd"/>
<rect x="810.4" y="72.2" width="12.2" height="4.2" rx="0" stroke="#000" stroke-width="0.9" fill="none"/>
<path d="M827 72.4 H839 Q847 72.4 847 81 V343" stroke="#000" stroke-width="1.1" fill="none"/>
<path d="M827 75 H838 Q844 75 844 82 V343" stroke="#000" stroke-width="1.1" fill="none"/>
<line x1="844" y1="343" x2="847" y2="343" stroke="#000" stroke-width="1"/>
<rect x="826.8" y="72" width="3.8" height="3.4" rx="0" stroke="#555" stroke-width="0.5" fill="#888"/>
<path d="M826.8 78 L843.6 82" stroke="#777" stroke-width="0.7" fill="none"/>
<path d="M835.2 109.6 V283 M843.6 82 V290" stroke="#000" stroke-width="0.9" fill="none"/>
<circle cx="845.4" cy="118" r="1.5" stroke="#000" stroke-width="1" fill="#000"/>
<line x1="844" y1="125" x2="847" y2="125" stroke="#000" stroke-width="0.8"/>
<line x1="844" y1="129" x2="847" y2="129" stroke="#000" stroke-width="0.8"/>
<rect x="841.4" y="144.8" width="2" height="2.4" rx="0" stroke="#000" stroke-width="0.4" fill="#000"/>
<rect x="841.4" y="168.8" width="2" height="2.4" rx="0" stroke="#000" stroke-width="0.4" fill="#000"/>
<rect x="841.4" y="198.8" width="2" height="2.4" rx="0" stroke="#000" stroke-width="0.4" fill="#000"/>
<rect x="841.4" y="230.8" width="2" height="2.4" rx="0" stroke="#000" stroke-width="0.4" fill="#000"/>
<rect x="841.4" y="260.8" width="2" height="2.4" rx="0" stroke="#000" stroke-width="0.4" fill="#000"/>
<rect x="678.4" y="283.2" width="151.6" height="12.2" rx="0" stroke="#000" stroke-width="1" fill="#fff"/>
<rect x="681" y="286.8" width="147" height="8.2" rx="0" stroke="#000" stroke-width="0.5" fill="#000"/>
<rect x="682.2" y="288" width="4.4" height="5.8" rx="0" stroke="#fff" stroke-width="0.2" fill="#fff"/>
<rect x="688.1" y="288" width="4.4" height="5.8" rx="0" stroke="#fff" stroke-width="0.2" fill="#fff"/>
<rect x="694" y="288" width="4.4" height="5.8" rx="0" stroke="#fff" stroke-width="0.2" fill="#fff"/>
<rect x="699.9" y="288" width="4.4" height="5.8" rx="0" stroke="#fff" stroke-width="0.2" fill="#fff"/>
<rect x="705.8" y="288" width="4.4" height="5.8" rx="0" stroke="#fff" stroke-width="0.2" fill="#fff"/>
<rect x="711.7" y="288" width="4.4" height="5.8" rx="0" stroke="#fff" stroke-width="0.2" fill="#fff"/>
<rect x="717.6" y="288" width="4.4" height="5.8" rx="0" stroke="#fff" stroke-width="0.2" fill="#fff"/>
<rect x="723.5" y="288" width="4.4" height="5.8" rx="0" stroke="#fff" stroke-width="0.2" fill="#fff"/>
<rect x="729.4" y="288" width="4.4" height="5.8" rx="0" stroke="#fff" stroke-width="0.2" fill="#fff"/>
<rect x="735.3" y="288" width="4.4" height="5.8" rx="0" stroke="#fff" stroke-width="0.2" fill="#fff"/>
<rect x="741.2" y="288" width="4.4" height="5.8" rx="0" stroke="#fff" stroke-width="0.2" fill="#fff"/>
<rect x="747.1" y="288" width="4.4" height="5.8" rx="0" stroke="#fff" stroke-width="0.2" fill="#fff"/>
<rect x="753" y="288" width="4.4" height="5.8" rx="0" stroke="#fff" stroke-width="0.2" fill="#fff"/>
<rect x="758.9" y="288" width="4.4" height="5.8" rx="0" stroke="#fff" stroke-width="0.2" fill="#fff"/>
<rect x="764.8" y="288" width="4.4" height="5.8" rx="0" stroke="#fff" stroke-width="0.2" fill="#fff"/>
<rect x="770.7" y="288" width="4.4" height="5.8" rx="0" stroke="#fff" stroke-width="0.2" fill="#fff"/>
<rect x="776.6" y="288" width="4.4" height="5.8" rx="0" stroke="#fff" stroke-width="0.2" fill="#fff"/>
<rect x="782.5" y="288" width="4.4" height="5.8" rx="0" stroke="#fff" stroke-width="0.2" fill="#fff"/>
<rect x="788.4" y="288" width="4.4" height="5.8" rx="0" stroke="#fff" stroke-width="0.2" fill="#fff"/>
<rect x="794.3" y="288" width="4.4" height="5.8" rx="0" stroke="#fff" stroke-width="0.2" fill="#fff"/>
<rect x="800.2" y="288" width="4.4" height="5.8" rx="0" stroke="#fff" stroke-width="0.2" fill="#fff"/>
<rect x="806.1" y="288" width="4.4" height="5.8" rx="0" stroke="#fff" stroke-width="0.2" fill="#fff"/>
<rect x="812" y="288" width="4.4" height="5.8" rx="0" stroke="#fff" stroke-width="0.2" fill="#fff"/>
<rect x="817.9" y="288" width="4.4" height="5.8" rx="0" stroke="#fff" stroke-width="0.2" fill="#fff"/>
<rect x="823.8" y="288" width="4.4" height="5.8" rx="0" stroke="#fff" stroke-width="0.2" fill="#fff"/>
<rect x="664.4" y="295.4" width="179" height="19.8" rx="0" stroke="#333" stroke-width="1" fill="#fff"/>
<line x1="664.4" y1="295.6" x2="843.4" y2="295.6" stroke="#000" stroke-width="1.4"/>
<line x1="753.6" y1="288" x2="753.6" y2="310" stroke="#333" stroke-width="0.8"/>
<circle cx="669" cy="301.2" r="1.8" stroke="#000" stroke-width="0.9" fill="#444"/>
<circle cx="674" cy="306.4" r="1.8" stroke="#000" stroke-width="0.9" fill="#444"/>
<circle cx="677.2" cy="297.6" r="1.8" stroke="#000" stroke-width="0.9" fill="#444"/>
<circle cx="838.6" cy="301.2" r="1.8" stroke="#000" stroke-width="0.9" fill="#444"/>
<circle cx="833.6" cy="306.4" r="1.8" stroke="#000" stroke-width="0.9" fill="#444"/>
<circle cx="830.4" cy="297.6" r="1.8" stroke="#000" stroke-width="0.9" fill="#444"/>
<rect x="670.4" y="289.8" width="3" height="3" rx="0" stroke="#000" stroke-width="0.4" fill="#000"/>
<rect x="834.4" y="289.8" width="3" height="3" rx="0" stroke="#000" stroke-width="0.4" fill="#000"/>
<path d="M795 295.6 V303 Q795 305 797 305 H806 Q808 305 808 303 V295.6" stroke="#000" stroke-width="1" fill="none"/>
<circle cx="801.4" cy="300.6" r="2.2" stroke="#000" stroke-width="1.2" fill="none"/>
<rect x="671.8" y="318.6" width="165.2" height="9.2" rx="0" stroke="#000" stroke-width="1.1" fill="none"/>
<line x1="690" y1="316.6" x2="700" y2="316.6" stroke="#777" stroke-width="1.2"/>
<line x1="812" y1="316.6" x2="822" y2="316.6" stroke="#777" stroke-width="1.2"/>
<rect x="682.6" y="331" width="25.6" height="14.6" rx="0" stroke="#000" stroke-width="1" fill="none"/>
<line x1="677.6" y1="329.6" x2="710.2" y2="329.6" stroke="#000" stroke-width="2.2"/>
<line x1="682.6" y1="345.6" x2="708.2" y2="345.6" stroke="#000" stroke-width="2"/>
<line x1="695.4" y1="332" x2="695.4" y2="335" stroke="#000" stroke-width="1"/>
<rect x="798.6" y="331" width="25.6" height="14.6" rx="0" stroke="#000" stroke-width="1" fill="none"/>
<line x1="793.6" y1="329.6" x2="826.2" y2="329.6" stroke="#000" stroke-width="2.2"/>
<line x1="798.6" y1="345.6" x2="824.2" y2="345.6" stroke="#000" stroke-width="2"/>
<line x1="811.4" y1="332" x2="811.4" y2="335" stroke="#000" stroke-width="1"/>
</g>
</svg>
</body></html>
